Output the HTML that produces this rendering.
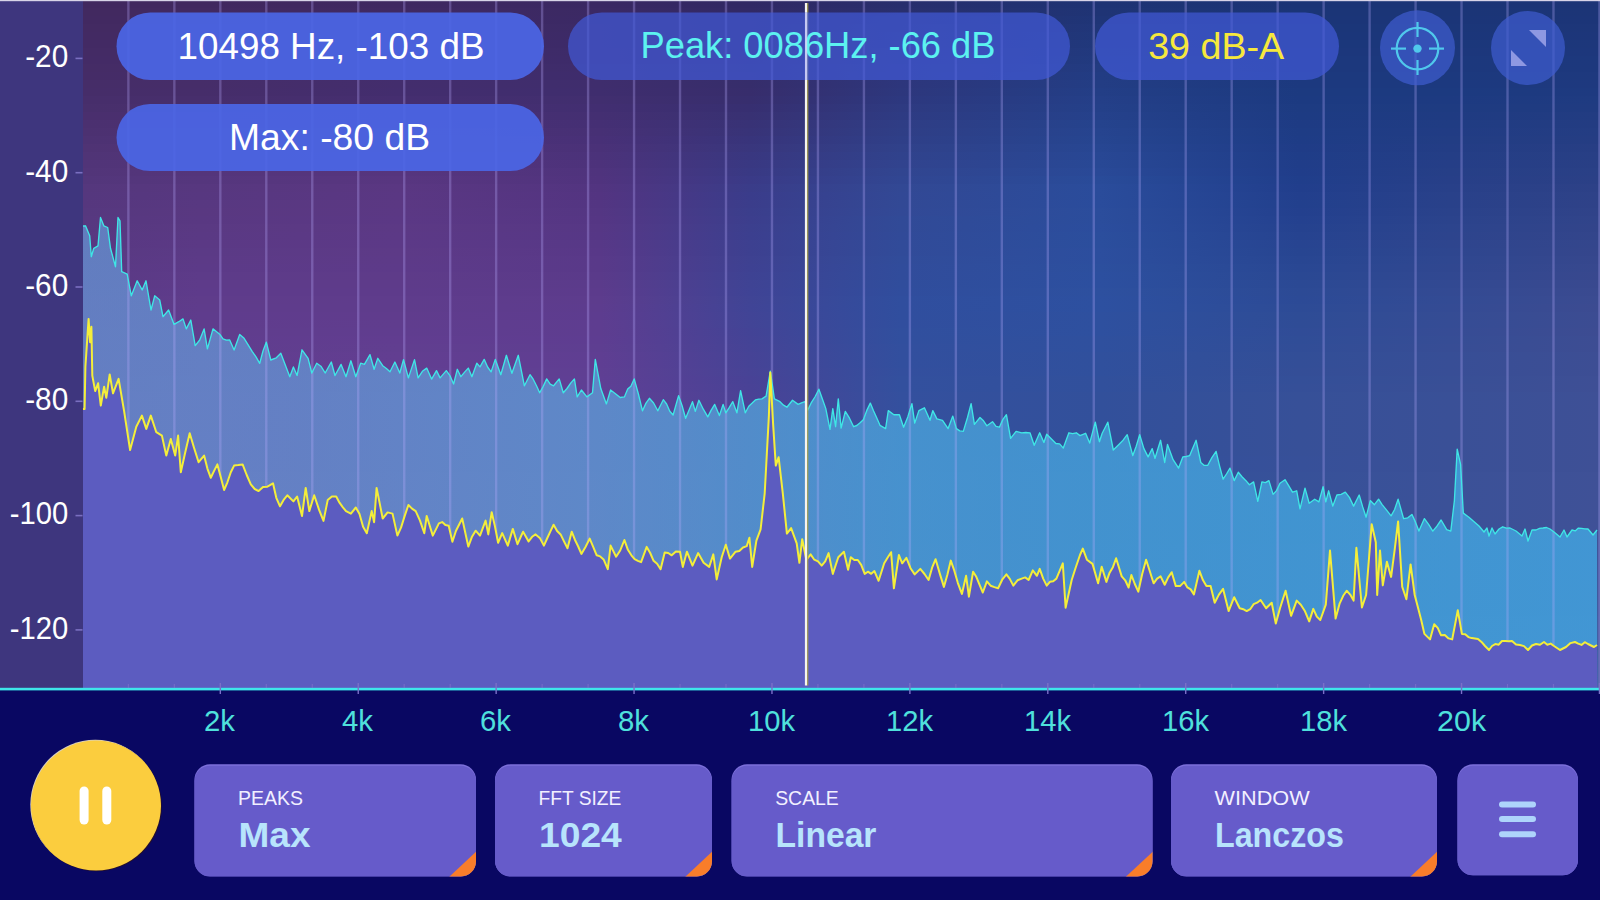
<!DOCTYPE html>
<html><head><meta charset="utf-8"><style>
html,body{margin:0;padding:0;background:#090762;width:1600px;height:900px;overflow:hidden}
svg{display:block;font-family:"Liberation Sans",sans-serif}
</style></head><body>
<svg width="1600" height="900" viewBox="0 0 1600 900">
<defs>
<linearGradient id="b0" x1="83" x2="1600" y1="0" y2="0" gradientUnits="userSpaceOnUse"><stop offset="0.000" stop-color="#41285f"/><stop offset="0.077" stop-color="#41285f"/><stop offset="0.209" stop-color="#3f2861"/><stop offset="0.341" stop-color="#3a2863"/><stop offset="0.440" stop-color="#302864"/><stop offset="0.539" stop-color="#282e6d"/><stop offset="0.670" stop-color="#1e3374"/><stop offset="0.802" stop-color="#1b3476"/><stop offset="0.901" stop-color="#1b3476"/><stop offset="1.000" stop-color="#1c3476"/></linearGradient><linearGradient id="b1" x1="83" x2="1600" y1="0" y2="0" gradientUnits="userSpaceOnUse"><stop offset="0.000" stop-color="#422960"/><stop offset="0.077" stop-color="#422960"/><stop offset="0.209" stop-color="#402962"/><stop offset="0.341" stop-color="#3b2964"/><stop offset="0.440" stop-color="#312965"/><stop offset="0.539" stop-color="#292f6e"/><stop offset="0.670" stop-color="#1f3475"/><stop offset="0.802" stop-color="#1b3577"/><stop offset="0.901" stop-color="#1b3577"/><stop offset="1.000" stop-color="#1c3577"/></linearGradient><linearGradient id="b2" x1="83" x2="1600" y1="0" y2="0" gradientUnits="userSpaceOnUse"><stop offset="0.000" stop-color="#422961"/><stop offset="0.077" stop-color="#422961"/><stop offset="0.209" stop-color="#402963"/><stop offset="0.341" stop-color="#3b2965"/><stop offset="0.440" stop-color="#322966"/><stop offset="0.539" stop-color="#293070"/><stop offset="0.670" stop-color="#1f3577"/><stop offset="0.802" stop-color="#1b3578"/><stop offset="0.901" stop-color="#1b3578"/><stop offset="1.000" stop-color="#1c3578"/></linearGradient><linearGradient id="b3" x1="83" x2="1600" y1="0" y2="0" gradientUnits="userSpaceOnUse"><stop offset="0.000" stop-color="#432a62"/><stop offset="0.077" stop-color="#432a62"/><stop offset="0.209" stop-color="#402a64"/><stop offset="0.341" stop-color="#3c2a66"/><stop offset="0.440" stop-color="#322a66"/><stop offset="0.539" stop-color="#2a3171"/><stop offset="0.670" stop-color="#203679"/><stop offset="0.802" stop-color="#1b3679"/><stop offset="0.901" stop-color="#1b3679"/><stop offset="1.000" stop-color="#1d3679"/></linearGradient><linearGradient id="b4" x1="83" x2="1600" y1="0" y2="0" gradientUnits="userSpaceOnUse"><stop offset="0.000" stop-color="#432a63"/><stop offset="0.077" stop-color="#432a63"/><stop offset="0.209" stop-color="#412a65"/><stop offset="0.341" stop-color="#3c2a67"/><stop offset="0.440" stop-color="#332a67"/><stop offset="0.539" stop-color="#2a3273"/><stop offset="0.670" stop-color="#20377a"/><stop offset="0.802" stop-color="#1b367a"/><stop offset="0.901" stop-color="#1b367a"/><stop offset="1.000" stop-color="#1d367a"/></linearGradient><linearGradient id="b5" x1="83" x2="1600" y1="0" y2="0" gradientUnits="userSpaceOnUse"><stop offset="0.000" stop-color="#432a64"/><stop offset="0.077" stop-color="#432a64"/><stop offset="0.209" stop-color="#412a67"/><stop offset="0.341" stop-color="#3c2a68"/><stop offset="0.440" stop-color="#332a68"/><stop offset="0.539" stop-color="#2a3274"/><stop offset="0.670" stop-color="#20387c"/><stop offset="0.802" stop-color="#1b377b"/><stop offset="0.901" stop-color="#1b377b"/><stop offset="1.000" stop-color="#1d377b"/></linearGradient><linearGradient id="b6" x1="83" x2="1600" y1="0" y2="0" gradientUnits="userSpaceOnUse"><stop offset="0.000" stop-color="#442b65"/><stop offset="0.077" stop-color="#442b65"/><stop offset="0.209" stop-color="#412b68"/><stop offset="0.341" stop-color="#3d2b69"/><stop offset="0.440" stop-color="#342b69"/><stop offset="0.539" stop-color="#2b3376"/><stop offset="0.670" stop-color="#21397e"/><stop offset="0.802" stop-color="#1c377c"/><stop offset="0.901" stop-color="#1c377c"/><stop offset="1.000" stop-color="#1d377c"/></linearGradient><linearGradient id="b7" x1="83" x2="1600" y1="0" y2="0" gradientUnits="userSpaceOnUse"><stop offset="0.000" stop-color="#442b66"/><stop offset="0.077" stop-color="#442b66"/><stop offset="0.209" stop-color="#422b69"/><stop offset="0.341" stop-color="#3d2b6a"/><stop offset="0.440" stop-color="#352b69"/><stop offset="0.539" stop-color="#2b3477"/><stop offset="0.670" stop-color="#213a7f"/><stop offset="0.802" stop-color="#1c387d"/><stop offset="0.901" stop-color="#1c387d"/><stop offset="1.000" stop-color="#1d387d"/></linearGradient><linearGradient id="b8" x1="83" x2="1600" y1="0" y2="0" gradientUnits="userSpaceOnUse"><stop offset="0.000" stop-color="#452c66"/><stop offset="0.077" stop-color="#452c67"/><stop offset="0.209" stop-color="#422c6a"/><stop offset="0.341" stop-color="#3e2c6b"/><stop offset="0.440" stop-color="#352c6a"/><stop offset="0.539" stop-color="#2c3579"/><stop offset="0.670" stop-color="#223b81"/><stop offset="0.802" stop-color="#1c387d"/><stop offset="0.901" stop-color="#1c387d"/><stop offset="1.000" stop-color="#1d387d"/></linearGradient><linearGradient id="b9" x1="83" x2="1600" y1="0" y2="0" gradientUnits="userSpaceOnUse"><stop offset="0.000" stop-color="#452c67"/><stop offset="0.077" stop-color="#452c68"/><stop offset="0.209" stop-color="#422c6c"/><stop offset="0.341" stop-color="#3e2c6c"/><stop offset="0.440" stop-color="#362c6b"/><stop offset="0.539" stop-color="#2c357a"/><stop offset="0.670" stop-color="#223c83"/><stop offset="0.802" stop-color="#1c397e"/><stop offset="0.901" stop-color="#1c397e"/><stop offset="1.000" stop-color="#1e397e"/></linearGradient><linearGradient id="b10" x1="83" x2="1600" y1="0" y2="0" gradientUnits="userSpaceOnUse"><stop offset="0.000" stop-color="#462d68"/><stop offset="0.077" stop-color="#462d69"/><stop offset="0.209" stop-color="#432d6d"/><stop offset="0.341" stop-color="#3f2d6d"/><stop offset="0.440" stop-color="#362d6b"/><stop offset="0.539" stop-color="#2d367c"/><stop offset="0.670" stop-color="#233d84"/><stop offset="0.802" stop-color="#1c397f"/><stop offset="0.901" stop-color="#1c397f"/><stop offset="1.000" stop-color="#1e397f"/></linearGradient><linearGradient id="b11" x1="83" x2="1600" y1="0" y2="0" gradientUnits="userSpaceOnUse"><stop offset="0.000" stop-color="#462d69"/><stop offset="0.077" stop-color="#462d6a"/><stop offset="0.209" stop-color="#432d6e"/><stop offset="0.341" stop-color="#3f2d6e"/><stop offset="0.440" stop-color="#372d6c"/><stop offset="0.539" stop-color="#2d377d"/><stop offset="0.670" stop-color="#233e86"/><stop offset="0.802" stop-color="#1c3a80"/><stop offset="0.901" stop-color="#1c3a80"/><stop offset="1.000" stop-color="#1e3a80"/></linearGradient><linearGradient id="b12" x1="83" x2="1600" y1="0" y2="0" gradientUnits="userSpaceOnUse"><stop offset="0.000" stop-color="#472e6b"/><stop offset="0.077" stop-color="#472e6c"/><stop offset="0.209" stop-color="#452e70"/><stop offset="0.341" stop-color="#412e6f"/><stop offset="0.440" stop-color="#372e6e"/><stop offset="0.539" stop-color="#2d387f"/><stop offset="0.670" stop-color="#243f88"/><stop offset="0.802" stop-color="#1c3a81"/><stop offset="0.901" stop-color="#1d3a81"/><stop offset="1.000" stop-color="#1f3b81"/></linearGradient><linearGradient id="b13" x1="83" x2="1600" y1="0" y2="0" gradientUnits="userSpaceOnUse"><stop offset="0.000" stop-color="#482f6c"/><stop offset="0.077" stop-color="#492f6d"/><stop offset="0.209" stop-color="#472f71"/><stop offset="0.341" stop-color="#422e71"/><stop offset="0.440" stop-color="#372f71"/><stop offset="0.539" stop-color="#2e3a81"/><stop offset="0.670" stop-color="#244089"/><stop offset="0.802" stop-color="#1d3b82"/><stop offset="0.901" stop-color="#1e3b81"/><stop offset="1.000" stop-color="#203b81"/></linearGradient><linearGradient id="b14" x1="83" x2="1600" y1="0" y2="0" gradientUnits="userSpaceOnUse"><stop offset="0.000" stop-color="#4a2f6e"/><stop offset="0.077" stop-color="#4a2f6f"/><stop offset="0.209" stop-color="#492f73"/><stop offset="0.341" stop-color="#442f72"/><stop offset="0.440" stop-color="#383173"/><stop offset="0.539" stop-color="#2e3b83"/><stop offset="0.670" stop-color="#25418b"/><stop offset="0.802" stop-color="#1d3b83"/><stop offset="0.901" stop-color="#1f3b82"/><stop offset="1.000" stop-color="#223c82"/></linearGradient><linearGradient id="b15" x1="83" x2="1600" y1="0" y2="0" gradientUnits="userSpaceOnUse"><stop offset="0.000" stop-color="#4b3070"/><stop offset="0.077" stop-color="#4c3071"/><stop offset="0.209" stop-color="#4b3075"/><stop offset="0.341" stop-color="#452f74"/><stop offset="0.440" stop-color="#383276"/><stop offset="0.539" stop-color="#2f3d85"/><stop offset="0.670" stop-color="#25438d"/><stop offset="0.802" stop-color="#1e3b84"/><stop offset="0.901" stop-color="#203c83"/><stop offset="1.000" stop-color="#233c82"/></linearGradient><linearGradient id="b16" x1="83" x2="1600" y1="0" y2="0" gradientUnits="userSpaceOnUse"><stop offset="0.000" stop-color="#4c3171"/><stop offset="0.077" stop-color="#4d3173"/><stop offset="0.209" stop-color="#4c3176"/><stop offset="0.341" stop-color="#473075"/><stop offset="0.440" stop-color="#383378"/><stop offset="0.539" stop-color="#2f3e86"/><stop offset="0.670" stop-color="#26448f"/><stop offset="0.802" stop-color="#1e3c85"/><stop offset="0.901" stop-color="#213c84"/><stop offset="1.000" stop-color="#243d83"/></linearGradient><linearGradient id="b17" x1="83" x2="1600" y1="0" y2="0" gradientUnits="userSpaceOnUse"><stop offset="0.000" stop-color="#4d3273"/><stop offset="0.077" stop-color="#4e3274"/><stop offset="0.209" stop-color="#4e3278"/><stop offset="0.341" stop-color="#483077"/><stop offset="0.440" stop-color="#38347b"/><stop offset="0.539" stop-color="#2f3f88"/><stop offset="0.670" stop-color="#264590"/><stop offset="0.802" stop-color="#1e3c86"/><stop offset="0.901" stop-color="#223d84"/><stop offset="1.000" stop-color="#253d83"/></linearGradient><linearGradient id="b18" x1="83" x2="1600" y1="0" y2="0" gradientUnits="userSpaceOnUse"><stop offset="0.000" stop-color="#4f3374"/><stop offset="0.077" stop-color="#503376"/><stop offset="0.209" stop-color="#503379"/><stop offset="0.341" stop-color="#4a3178"/><stop offset="0.440" stop-color="#39367d"/><stop offset="0.539" stop-color="#30418a"/><stop offset="0.670" stop-color="#274692"/><stop offset="0.802" stop-color="#1f3c87"/><stop offset="0.901" stop-color="#233d85"/><stop offset="1.000" stop-color="#273e84"/></linearGradient><linearGradient id="b19" x1="83" x2="1600" y1="0" y2="0" gradientUnits="userSpaceOnUse"><stop offset="0.000" stop-color="#503476"/><stop offset="0.077" stop-color="#513478"/><stop offset="0.209" stop-color="#52347b"/><stop offset="0.341" stop-color="#4b327a"/><stop offset="0.440" stop-color="#393780"/><stop offset="0.539" stop-color="#30428c"/><stop offset="0.670" stop-color="#284794"/><stop offset="0.802" stop-color="#1f3d88"/><stop offset="0.901" stop-color="#243e86"/><stop offset="1.000" stop-color="#283f85"/></linearGradient><linearGradient id="b20" x1="83" x2="1600" y1="0" y2="0" gradientUnits="userSpaceOnUse"><stop offset="0.000" stop-color="#513478"/><stop offset="0.077" stop-color="#523479"/><stop offset="0.209" stop-color="#54347d"/><stop offset="0.341" stop-color="#4d327b"/><stop offset="0.440" stop-color="#393882"/><stop offset="0.539" stop-color="#31438e"/><stop offset="0.670" stop-color="#284895"/><stop offset="0.802" stop-color="#203d89"/><stop offset="0.901" stop-color="#253e87"/><stop offset="1.000" stop-color="#293f85"/></linearGradient><linearGradient id="b21" x1="83" x2="1600" y1="0" y2="0" gradientUnits="userSpaceOnUse"><stop offset="0.000" stop-color="#523579"/><stop offset="0.077" stop-color="#54357b"/><stop offset="0.209" stop-color="#56357e"/><stop offset="0.341" stop-color="#4f337d"/><stop offset="0.440" stop-color="#393984"/><stop offset="0.539" stop-color="#314590"/><stop offset="0.670" stop-color="#294997"/><stop offset="0.802" stop-color="#203d8a"/><stop offset="0.901" stop-color="#263f87"/><stop offset="1.000" stop-color="#2a4086"/></linearGradient><linearGradient id="b22" x1="83" x2="1600" y1="0" y2="0" gradientUnits="userSpaceOnUse"><stop offset="0.000" stop-color="#53367b"/><stop offset="0.077" stop-color="#55367d"/><stop offset="0.209" stop-color="#583680"/><stop offset="0.341" stop-color="#50337e"/><stop offset="0.440" stop-color="#3a3a87"/><stop offset="0.539" stop-color="#314692"/><stop offset="0.670" stop-color="#294b99"/><stop offset="0.802" stop-color="#203e8b"/><stop offset="0.901" stop-color="#273f88"/><stop offset="1.000" stop-color="#2b4086"/></linearGradient><linearGradient id="b23" x1="83" x2="1600" y1="0" y2="0" gradientUnits="userSpaceOnUse"><stop offset="0.000" stop-color="#55377d"/><stop offset="0.077" stop-color="#57377f"/><stop offset="0.209" stop-color="#5a3782"/><stop offset="0.341" stop-color="#523480"/><stop offset="0.440" stop-color="#3a3c89"/><stop offset="0.539" stop-color="#324894"/><stop offset="0.670" stop-color="#2a4c9b"/><stop offset="0.802" stop-color="#213e8c"/><stop offset="0.901" stop-color="#284089"/><stop offset="1.000" stop-color="#2d4187"/></linearGradient><linearGradient id="b24" x1="83" x2="1600" y1="0" y2="0" gradientUnits="userSpaceOnUse"><stop offset="0.000" stop-color="#55377e"/><stop offset="0.077" stop-color="#573780"/><stop offset="0.209" stop-color="#5a3783"/><stop offset="0.341" stop-color="#533481"/><stop offset="0.440" stop-color="#3a3c8b"/><stop offset="0.539" stop-color="#324895"/><stop offset="0.670" stop-color="#2a4c9b"/><stop offset="0.802" stop-color="#223f8d"/><stop offset="0.901" stop-color="#29418a"/><stop offset="1.000" stop-color="#2e4288"/></linearGradient><linearGradient id="b25" x1="83" x2="1600" y1="0" y2="0" gradientUnits="userSpaceOnUse"><stop offset="0.000" stop-color="#56377e"/><stop offset="0.077" stop-color="#583881"/><stop offset="0.209" stop-color="#5b3883"/><stop offset="0.341" stop-color="#533582"/><stop offset="0.440" stop-color="#3b3d8b"/><stop offset="0.539" stop-color="#324995"/><stop offset="0.670" stop-color="#2a4c9c"/><stop offset="0.802" stop-color="#22408d"/><stop offset="0.901" stop-color="#29418a"/><stop offset="1.000" stop-color="#2f4288"/></linearGradient><linearGradient id="b26" x1="83" x2="1600" y1="0" y2="0" gradientUnits="userSpaceOnUse"><stop offset="0.000" stop-color="#56387f"/><stop offset="0.077" stop-color="#593881"/><stop offset="0.209" stop-color="#5b3884"/><stop offset="0.341" stop-color="#543683"/><stop offset="0.440" stop-color="#3b3e8c"/><stop offset="0.539" stop-color="#324996"/><stop offset="0.670" stop-color="#2b4d9c"/><stop offset="0.802" stop-color="#23408e"/><stop offset="0.901" stop-color="#2a428b"/><stop offset="1.000" stop-color="#304389"/></linearGradient><linearGradient id="b27" x1="83" x2="1600" y1="0" y2="0" gradientUnits="userSpaceOnUse"><stop offset="0.000" stop-color="#573880"/><stop offset="0.077" stop-color="#593882"/><stop offset="0.209" stop-color="#5b3885"/><stop offset="0.341" stop-color="#553684"/><stop offset="0.440" stop-color="#3c3e8d"/><stop offset="0.539" stop-color="#314a97"/><stop offset="0.670" stop-color="#2b4d9c"/><stop offset="0.802" stop-color="#24418f"/><stop offset="0.901" stop-color="#2b438c"/><stop offset="1.000" stop-color="#31448a"/></linearGradient><linearGradient id="b28" x1="83" x2="1600" y1="0" y2="0" gradientUnits="userSpaceOnUse"><stop offset="0.000" stop-color="#573880"/><stop offset="0.077" stop-color="#5a3983"/><stop offset="0.209" stop-color="#5c3985"/><stop offset="0.341" stop-color="#563785"/><stop offset="0.440" stop-color="#3c3f8e"/><stop offset="0.539" stop-color="#314a97"/><stop offset="0.670" stop-color="#2b4d9d"/><stop offset="0.802" stop-color="#25428f"/><stop offset="0.901" stop-color="#2c448d"/><stop offset="1.000" stop-color="#32448a"/></linearGradient><linearGradient id="b29" x1="83" x2="1600" y1="0" y2="0" gradientUnits="userSpaceOnUse"><stop offset="0.000" stop-color="#583881"/><stop offset="0.077" stop-color="#5a3984"/><stop offset="0.209" stop-color="#5c3986"/><stop offset="0.341" stop-color="#563786"/><stop offset="0.440" stop-color="#3c3f8f"/><stop offset="0.539" stop-color="#314a98"/><stop offset="0.670" stop-color="#2b4e9d"/><stop offset="0.802" stop-color="#264390"/><stop offset="0.901" stop-color="#2d448d"/><stop offset="1.000" stop-color="#33458b"/></linearGradient><linearGradient id="b30" x1="83" x2="1600" y1="0" y2="0" gradientUnits="userSpaceOnUse"><stop offset="0.000" stop-color="#583882"/><stop offset="0.077" stop-color="#5b3985"/><stop offset="0.209" stop-color="#5c3987"/><stop offset="0.341" stop-color="#573887"/><stop offset="0.440" stop-color="#3d4090"/><stop offset="0.539" stop-color="#314b99"/><stop offset="0.670" stop-color="#2b4e9d"/><stop offset="0.802" stop-color="#274491"/><stop offset="0.901" stop-color="#2e458e"/><stop offset="1.000" stop-color="#34468c"/></linearGradient><linearGradient id="b31" x1="83" x2="1600" y1="0" y2="0" gradientUnits="userSpaceOnUse"><stop offset="0.000" stop-color="#593982"/><stop offset="0.077" stop-color="#5b3a86"/><stop offset="0.209" stop-color="#5d3a87"/><stop offset="0.341" stop-color="#583888"/><stop offset="0.440" stop-color="#3d4090"/><stop offset="0.539" stop-color="#314b99"/><stop offset="0.670" stop-color="#2c4e9e"/><stop offset="0.802" stop-color="#274591"/><stop offset="0.901" stop-color="#2e468f"/><stop offset="1.000" stop-color="#35468c"/></linearGradient><linearGradient id="b32" x1="83" x2="1600" y1="0" y2="0" gradientUnits="userSpaceOnUse"><stop offset="0.000" stop-color="#593983"/><stop offset="0.077" stop-color="#5c3a87"/><stop offset="0.209" stop-color="#5d3a88"/><stop offset="0.341" stop-color="#593989"/><stop offset="0.440" stop-color="#3e4191"/><stop offset="0.539" stop-color="#314c9a"/><stop offset="0.670" stop-color="#2c4e9e"/><stop offset="0.802" stop-color="#284692"/><stop offset="0.901" stop-color="#2f4790"/><stop offset="1.000" stop-color="#36478d"/></linearGradient><linearGradient id="b33" x1="83" x2="1600" y1="0" y2="0" gradientUnits="userSpaceOnUse"><stop offset="0.000" stop-color="#5a3984"/><stop offset="0.077" stop-color="#5c3a88"/><stop offset="0.209" stop-color="#5d3a89"/><stop offset="0.341" stop-color="#593989"/><stop offset="0.440" stop-color="#3e4192"/><stop offset="0.539" stop-color="#314c9b"/><stop offset="0.670" stop-color="#2c4f9e"/><stop offset="0.802" stop-color="#294793"/><stop offset="0.901" stop-color="#304790"/><stop offset="1.000" stop-color="#37488e"/></linearGradient><linearGradient id="b34" x1="83" x2="1600" y1="0" y2="0" gradientUnits="userSpaceOnUse"><stop offset="0.000" stop-color="#5a3984"/><stop offset="0.077" stop-color="#5d3b89"/><stop offset="0.209" stop-color="#5e3b89"/><stop offset="0.341" stop-color="#5a3a8a"/><stop offset="0.440" stop-color="#3e4293"/><stop offset="0.539" stop-color="#314c9b"/><stop offset="0.670" stop-color="#2c4f9f"/><stop offset="0.802" stop-color="#2a4893"/><stop offset="0.901" stop-color="#314891"/><stop offset="1.000" stop-color="#38488e"/></linearGradient><linearGradient id="b35" x1="83" x2="1600" y1="0" y2="0" gradientUnits="userSpaceOnUse"><stop offset="0.000" stop-color="#5b3985"/><stop offset="0.077" stop-color="#5e3b8a"/><stop offset="0.209" stop-color="#5e3b8a"/><stop offset="0.341" stop-color="#5b3b8b"/><stop offset="0.440" stop-color="#3f4394"/><stop offset="0.539" stop-color="#304d9c"/><stop offset="0.670" stop-color="#2c4f9f"/><stop offset="0.802" stop-color="#2b4994"/><stop offset="0.901" stop-color="#324992"/><stop offset="1.000" stop-color="#39498f"/></linearGradient><linearGradient id="b36" x1="83" x2="1600" y1="0" y2="0" gradientUnits="userSpaceOnUse"><stop offset="0.000" stop-color="#5b3a86"/><stop offset="0.077" stop-color="#5e3b8b"/><stop offset="0.209" stop-color="#5e3b8b"/><stop offset="0.341" stop-color="#5c3b8c"/><stop offset="0.440" stop-color="#3f4395"/><stop offset="0.539" stop-color="#304d9d"/><stop offset="0.670" stop-color="#2d509f"/><stop offset="0.802" stop-color="#2c4a95"/><stop offset="0.901" stop-color="#334a93"/><stop offset="1.000" stop-color="#3a4a90"/></linearGradient><linearGradient id="b37" x1="83" x2="1600" y1="0" y2="0" gradientUnits="userSpaceOnUse"><stop offset="0.000" stop-color="#5c3a87"/><stop offset="0.077" stop-color="#5f3c8b"/><stop offset="0.209" stop-color="#5f3c8c"/><stop offset="0.341" stop-color="#5d3c8d"/><stop offset="0.440" stop-color="#404495"/><stop offset="0.539" stop-color="#304e9e"/><stop offset="0.670" stop-color="#2d50a0"/><stop offset="0.802" stop-color="#2c4a96"/><stop offset="0.901" stop-color="#334b94"/><stop offset="1.000" stop-color="#3b4b91"/></linearGradient><linearGradient id="b38" x1="83" x2="1600" y1="0" y2="0" gradientUnits="userSpaceOnUse"><stop offset="0.000" stop-color="#5c3a87"/><stop offset="0.077" stop-color="#5f3c8c"/><stop offset="0.209" stop-color="#5f3c8c"/><stop offset="0.341" stop-color="#5d3c8e"/><stop offset="0.440" stop-color="#404496"/><stop offset="0.539" stop-color="#304e9e"/><stop offset="0.670" stop-color="#2d50a0"/><stop offset="0.802" stop-color="#2d4b96"/><stop offset="0.901" stop-color="#344b94"/><stop offset="1.000" stop-color="#3c4b91"/></linearGradient><linearGradient id="b39" x1="83" x2="1600" y1="0" y2="0" gradientUnits="userSpaceOnUse"><stop offset="0.000" stop-color="#5c3a88"/><stop offset="0.077" stop-color="#5f3c8d"/><stop offset="0.209" stop-color="#603c8d"/><stop offset="0.341" stop-color="#5d3c8f"/><stop offset="0.440" stop-color="#414496"/><stop offset="0.539" stop-color="#304e9e"/><stop offset="0.670" stop-color="#2e509f"/><stop offset="0.802" stop-color="#2e4c96"/><stop offset="0.901" stop-color="#354c94"/><stop offset="1.000" stop-color="#3c4c92"/></linearGradient><linearGradient id="b40" x1="83" x2="1600" y1="0" y2="0" gradientUnits="userSpaceOnUse"><stop offset="0.000" stop-color="#5d3a88"/><stop offset="0.077" stop-color="#603c8d"/><stop offset="0.209" stop-color="#603d8e"/><stop offset="0.341" stop-color="#5e3d90"/><stop offset="0.440" stop-color="#424496"/><stop offset="0.539" stop-color="#314e9e"/><stop offset="0.670" stop-color="#2e509f"/><stop offset="0.802" stop-color="#2f4c96"/><stop offset="0.901" stop-color="#354c95"/><stop offset="1.000" stop-color="#3c4c92"/></linearGradient><linearGradient id="b41" x1="83" x2="1600" y1="0" y2="0" gradientUnits="userSpaceOnUse"><stop offset="0.000" stop-color="#5d3b88"/><stop offset="0.077" stop-color="#603d8d"/><stop offset="0.209" stop-color="#603d8f"/><stop offset="0.341" stop-color="#5e3d90"/><stop offset="0.440" stop-color="#434396"/><stop offset="0.539" stop-color="#314f9e"/><stop offset="0.670" stop-color="#2e509f"/><stop offset="0.802" stop-color="#304c97"/><stop offset="0.901" stop-color="#364c95"/><stop offset="1.000" stop-color="#3d4c92"/></linearGradient><linearGradient id="b42" x1="83" x2="1600" y1="0" y2="0" gradientUnits="userSpaceOnUse"><stop offset="0.000" stop-color="#5d3b89"/><stop offset="0.077" stop-color="#603d8e"/><stop offset="0.209" stop-color="#613d90"/><stop offset="0.341" stop-color="#5e3d91"/><stop offset="0.440" stop-color="#444396"/><stop offset="0.539" stop-color="#314f9e"/><stop offset="0.670" stop-color="#2f509e"/><stop offset="0.802" stop-color="#304d97"/><stop offset="0.901" stop-color="#364d95"/><stop offset="1.000" stop-color="#3d4d93"/></linearGradient><linearGradient id="b43" x1="83" x2="1600" y1="0" y2="0" gradientUnits="userSpaceOnUse"><stop offset="0.000" stop-color="#5d3b89"/><stop offset="0.077" stop-color="#603d8e"/><stop offset="0.209" stop-color="#613e90"/><stop offset="0.341" stop-color="#5e3e91"/><stop offset="0.440" stop-color="#454396"/><stop offset="0.539" stop-color="#324f9e"/><stop offset="0.670" stop-color="#2f509e"/><stop offset="0.802" stop-color="#314d97"/><stop offset="0.901" stop-color="#374d95"/><stop offset="1.000" stop-color="#3d4d93"/></linearGradient><linearGradient id="b44" x1="83" x2="1600" y1="0" y2="0" gradientUnits="userSpaceOnUse"><stop offset="0.000" stop-color="#5e3b8a"/><stop offset="0.077" stop-color="#613d8f"/><stop offset="0.209" stop-color="#623e91"/><stop offset="0.341" stop-color="#5f3e92"/><stop offset="0.440" stop-color="#464396"/><stop offset="0.539" stop-color="#324f9e"/><stop offset="0.670" stop-color="#30509d"/><stop offset="0.802" stop-color="#324e97"/><stop offset="0.901" stop-color="#374e96"/><stop offset="1.000" stop-color="#3d4e94"/></linearGradient><linearGradient id="b45" x1="83" x2="1600" y1="0" y2="0" gradientUnits="userSpaceOnUse"><stop offset="0.000" stop-color="#5e3b8a"/><stop offset="0.077" stop-color="#613d8f"/><stop offset="0.209" stop-color="#623e92"/><stop offset="0.341" stop-color="#5f3e93"/><stop offset="0.440" stop-color="#464396"/><stop offset="0.539" stop-color="#324f9e"/><stop offset="0.670" stop-color="#30509d"/><stop offset="0.802" stop-color="#334e97"/><stop offset="0.901" stop-color="#384e96"/><stop offset="1.000" stop-color="#3d4e94"/></linearGradient><linearGradient id="b46" x1="83" x2="1600" y1="0" y2="0" gradientUnits="userSpaceOnUse"><stop offset="0.000" stop-color="#5e3b8a"/><stop offset="0.077" stop-color="#613d8f"/><stop offset="0.209" stop-color="#623f93"/><stop offset="0.341" stop-color="#5f3f93"/><stop offset="0.440" stop-color="#474396"/><stop offset="0.539" stop-color="#334f9e"/><stop offset="0.670" stop-color="#30509d"/><stop offset="0.802" stop-color="#344e97"/><stop offset="0.901" stop-color="#384e96"/><stop offset="1.000" stop-color="#3d4e94"/></linearGradient><linearGradient id="b47" x1="83" x2="1600" y1="0" y2="0" gradientUnits="userSpaceOnUse"><stop offset="0.000" stop-color="#5e3c8b"/><stop offset="0.077" stop-color="#613e90"/><stop offset="0.209" stop-color="#633f94"/><stop offset="0.341" stop-color="#5f3f94"/><stop offset="0.440" stop-color="#484296"/><stop offset="0.539" stop-color="#33509e"/><stop offset="0.670" stop-color="#31509c"/><stop offset="0.802" stop-color="#344f98"/><stop offset="0.901" stop-color="#384f96"/><stop offset="1.000" stop-color="#3e4f95"/></linearGradient><linearGradient id="b48" x1="83" x2="1600" y1="0" y2="0" gradientUnits="userSpaceOnUse"><stop offset="0.000" stop-color="#5e3c8b"/><stop offset="0.077" stop-color="#613e90"/><stop offset="0.209" stop-color="#633f94"/><stop offset="0.341" stop-color="#5f3f95"/><stop offset="0.440" stop-color="#494296"/><stop offset="0.539" stop-color="#33509e"/><stop offset="0.670" stop-color="#31509c"/><stop offset="0.802" stop-color="#354f98"/><stop offset="0.901" stop-color="#394f96"/><stop offset="1.000" stop-color="#3e4f95"/></linearGradient><linearGradient id="b49" x1="83" x2="1600" y1="0" y2="0" gradientUnits="userSpaceOnUse"><stop offset="0.000" stop-color="#5f3c8c"/><stop offset="0.077" stop-color="#623e91"/><stop offset="0.209" stop-color="#644095"/><stop offset="0.341" stop-color="#604095"/><stop offset="0.440" stop-color="#4a4296"/><stop offset="0.539" stop-color="#34509e"/><stop offset="0.670" stop-color="#32509b"/><stop offset="0.802" stop-color="#365098"/><stop offset="0.901" stop-color="#395097"/><stop offset="1.000" stop-color="#3e5096"/></linearGradient><linearGradient id="b50" x1="83" x2="1600" y1="0" y2="0" gradientUnits="userSpaceOnUse"><stop offset="0.000" stop-color="#5f3c8c"/><stop offset="0.077" stop-color="#623e91"/><stop offset="0.209" stop-color="#644096"/><stop offset="0.341" stop-color="#604096"/><stop offset="0.440" stop-color="#4b4296"/><stop offset="0.539" stop-color="#34509e"/><stop offset="0.670" stop-color="#32509b"/><stop offset="0.802" stop-color="#375098"/><stop offset="0.901" stop-color="#3a5097"/><stop offset="1.000" stop-color="#3e5096"/></linearGradient><linearGradient id="b51" x1="83" x2="1600" y1="0" y2="0" gradientUnits="userSpaceOnUse"><stop offset="0.000" stop-color="#5f3c8c"/><stop offset="0.077" stop-color="#623e91"/><stop offset="0.209" stop-color="#644096"/><stop offset="0.341" stop-color="#604096"/><stop offset="0.440" stop-color="#4b4296"/><stop offset="0.539" stop-color="#34509e"/><stop offset="0.670" stop-color="#32509b"/><stop offset="0.802" stop-color="#375098"/><stop offset="0.901" stop-color="#3a5097"/><stop offset="1.000" stop-color="#3e5096"/></linearGradient><linearGradient id="b52" x1="83" x2="1600" y1="0" y2="0" gradientUnits="userSpaceOnUse"><stop offset="0.000" stop-color="#5f3c8c"/><stop offset="0.077" stop-color="#623e91"/><stop offset="0.209" stop-color="#644096"/><stop offset="0.341" stop-color="#604096"/><stop offset="0.440" stop-color="#4b4296"/><stop offset="0.539" stop-color="#34509e"/><stop offset="0.670" stop-color="#32509b"/><stop offset="0.802" stop-color="#375098"/><stop offset="0.901" stop-color="#3a5097"/><stop offset="1.000" stop-color="#3e5096"/></linearGradient><linearGradient id="b53" x1="83" x2="1600" y1="0" y2="0" gradientUnits="userSpaceOnUse"><stop offset="0.000" stop-color="#5f3c8c"/><stop offset="0.077" stop-color="#623e91"/><stop offset="0.209" stop-color="#644096"/><stop offset="0.341" stop-color="#604096"/><stop offset="0.440" stop-color="#4b4296"/><stop offset="0.539" stop-color="#34509e"/><stop offset="0.670" stop-color="#32509b"/><stop offset="0.802" stop-color="#375098"/><stop offset="0.901" stop-color="#3a5097"/><stop offset="1.000" stop-color="#3e5096"/></linearGradient><linearGradient id="b54" x1="83" x2="1600" y1="0" y2="0" gradientUnits="userSpaceOnUse"><stop offset="0.000" stop-color="#5f3c8d"/><stop offset="0.077" stop-color="#623e92"/><stop offset="0.209" stop-color="#644096"/><stop offset="0.341" stop-color="#604096"/><stop offset="0.440" stop-color="#4b4296"/><stop offset="0.539" stop-color="#34509e"/><stop offset="0.670" stop-color="#32509b"/><stop offset="0.802" stop-color="#375098"/><stop offset="0.901" stop-color="#3a5097"/><stop offset="1.000" stop-color="#3e5096"/></linearGradient><linearGradient id="b55" x1="83" x2="1600" y1="0" y2="0" gradientUnits="userSpaceOnUse"><stop offset="0.000" stop-color="#5f3c8d"/><stop offset="0.077" stop-color="#623e92"/><stop offset="0.209" stop-color="#644096"/><stop offset="0.341" stop-color="#604096"/><stop offset="0.440" stop-color="#4b4296"/><stop offset="0.539" stop-color="#34509e"/><stop offset="0.670" stop-color="#32509b"/><stop offset="0.802" stop-color="#375098"/><stop offset="0.901" stop-color="#3a5097"/><stop offset="1.000" stop-color="#3e5096"/></linearGradient><linearGradient id="b56" x1="83" x2="1600" y1="0" y2="0" gradientUnits="userSpaceOnUse"><stop offset="0.000" stop-color="#5f3c8d"/><stop offset="0.077" stop-color="#623e92"/><stop offset="0.209" stop-color="#644096"/><stop offset="0.341" stop-color="#604096"/><stop offset="0.440" stop-color="#4b4296"/><stop offset="0.539" stop-color="#34509e"/><stop offset="0.670" stop-color="#32509b"/><stop offset="0.802" stop-color="#375098"/><stop offset="0.901" stop-color="#3a5097"/><stop offset="1.000" stop-color="#3e5096"/></linearGradient><linearGradient id="b57" x1="83" x2="1600" y1="0" y2="0" gradientUnits="userSpaceOnUse"><stop offset="0.000" stop-color="#603c8d"/><stop offset="0.077" stop-color="#623e92"/><stop offset="0.209" stop-color="#644096"/><stop offset="0.341" stop-color="#604096"/><stop offset="0.440" stop-color="#4c4296"/><stop offset="0.539" stop-color="#35509e"/><stop offset="0.670" stop-color="#32509c"/><stop offset="0.802" stop-color="#375099"/><stop offset="0.901" stop-color="#3a5097"/><stop offset="1.000" stop-color="#3e5096"/></linearGradient><linearGradient id="b58" x1="83" x2="1600" y1="0" y2="0" gradientUnits="userSpaceOnUse"><stop offset="0.000" stop-color="#603c8d"/><stop offset="0.077" stop-color="#623e92"/><stop offset="0.209" stop-color="#644096"/><stop offset="0.341" stop-color="#604096"/><stop offset="0.440" stop-color="#4c4296"/><stop offset="0.539" stop-color="#35509e"/><stop offset="0.670" stop-color="#32509c"/><stop offset="0.802" stop-color="#375099"/><stop offset="0.901" stop-color="#3a5097"/><stop offset="1.000" stop-color="#3e5096"/></linearGradient><linearGradient id="b59" x1="83" x2="1600" y1="0" y2="0" gradientUnits="userSpaceOnUse"><stop offset="0.000" stop-color="#603d8d"/><stop offset="0.077" stop-color="#633f92"/><stop offset="0.209" stop-color="#654197"/><stop offset="0.341" stop-color="#614197"/><stop offset="0.440" stop-color="#4c4397"/><stop offset="0.539" stop-color="#35519f"/><stop offset="0.670" stop-color="#33519c"/><stop offset="0.802" stop-color="#375199"/><stop offset="0.901" stop-color="#3b5198"/><stop offset="1.000" stop-color="#3f5197"/></linearGradient><linearGradient id="b60" x1="83" x2="1600" y1="0" y2="0" gradientUnits="userSpaceOnUse"><stop offset="0.000" stop-color="#603d8d"/><stop offset="0.077" stop-color="#633f92"/><stop offset="0.209" stop-color="#654197"/><stop offset="0.341" stop-color="#614197"/><stop offset="0.440" stop-color="#4c4397"/><stop offset="0.539" stop-color="#35519f"/><stop offset="0.670" stop-color="#33519c"/><stop offset="0.802" stop-color="#375199"/><stop offset="0.901" stop-color="#3b5198"/><stop offset="1.000" stop-color="#3f5197"/></linearGradient><linearGradient id="b61" x1="83" x2="1600" y1="0" y2="0" gradientUnits="userSpaceOnUse"><stop offset="0.000" stop-color="#603d8e"/><stop offset="0.077" stop-color="#633f93"/><stop offset="0.209" stop-color="#654197"/><stop offset="0.341" stop-color="#614197"/><stop offset="0.440" stop-color="#4c4397"/><stop offset="0.539" stop-color="#35519f"/><stop offset="0.670" stop-color="#33519c"/><stop offset="0.802" stop-color="#375199"/><stop offset="0.901" stop-color="#3b5198"/><stop offset="1.000" stop-color="#3f5197"/></linearGradient><linearGradient id="b62" x1="83" x2="1600" y1="0" y2="0" gradientUnits="userSpaceOnUse"><stop offset="0.000" stop-color="#603d8e"/><stop offset="0.077" stop-color="#633f93"/><stop offset="0.209" stop-color="#654197"/><stop offset="0.341" stop-color="#614197"/><stop offset="0.440" stop-color="#4c4397"/><stop offset="0.539" stop-color="#35519f"/><stop offset="0.670" stop-color="#33519c"/><stop offset="0.802" stop-color="#375199"/><stop offset="0.901" stop-color="#3b5198"/><stop offset="1.000" stop-color="#3f5197"/></linearGradient><linearGradient id="b63" x1="83" x2="1600" y1="0" y2="0" gradientUnits="userSpaceOnUse"><stop offset="0.000" stop-color="#603d8e"/><stop offset="0.077" stop-color="#633f93"/><stop offset="0.209" stop-color="#654197"/><stop offset="0.341" stop-color="#614197"/><stop offset="0.440" stop-color="#4c4397"/><stop offset="0.539" stop-color="#35519f"/><stop offset="0.670" stop-color="#33519c"/><stop offset="0.802" stop-color="#375199"/><stop offset="0.901" stop-color="#3b5198"/><stop offset="1.000" stop-color="#3f5197"/></linearGradient><linearGradient id="b64" x1="83" x2="1600" y1="0" y2="0" gradientUnits="userSpaceOnUse"><stop offset="0.000" stop-color="#603d8e"/><stop offset="0.077" stop-color="#633f93"/><stop offset="0.209" stop-color="#654197"/><stop offset="0.341" stop-color="#614197"/><stop offset="0.440" stop-color="#4c4397"/><stop offset="0.539" stop-color="#35519f"/><stop offset="0.670" stop-color="#33519c"/><stop offset="0.802" stop-color="#375199"/><stop offset="0.901" stop-color="#3b5198"/><stop offset="1.000" stop-color="#3f5197"/></linearGradient><linearGradient id="b65" x1="83" x2="1600" y1="0" y2="0" gradientUnits="userSpaceOnUse"><stop offset="0.000" stop-color="#603d8e"/><stop offset="0.077" stop-color="#633f93"/><stop offset="0.209" stop-color="#654197"/><stop offset="0.341" stop-color="#614197"/><stop offset="0.440" stop-color="#4c4397"/><stop offset="0.539" stop-color="#35519f"/><stop offset="0.670" stop-color="#33519c"/><stop offset="0.802" stop-color="#375199"/><stop offset="0.901" stop-color="#3b5198"/><stop offset="1.000" stop-color="#3f5197"/></linearGradient><linearGradient id="b66" x1="83" x2="1600" y1="0" y2="0" gradientUnits="userSpaceOnUse"><stop offset="0.000" stop-color="#603d8e"/><stop offset="0.077" stop-color="#633f93"/><stop offset="0.209" stop-color="#654197"/><stop offset="0.341" stop-color="#614197"/><stop offset="0.440" stop-color="#4c4397"/><stop offset="0.539" stop-color="#35519f"/><stop offset="0.670" stop-color="#33519c"/><stop offset="0.802" stop-color="#375199"/><stop offset="0.901" stop-color="#3b5198"/><stop offset="1.000" stop-color="#3f5197"/></linearGradient><linearGradient id="b67" x1="83" x2="1600" y1="0" y2="0" gradientUnits="userSpaceOnUse"><stop offset="0.000" stop-color="#603d8e"/><stop offset="0.077" stop-color="#633f93"/><stop offset="0.209" stop-color="#654197"/><stop offset="0.341" stop-color="#614197"/><stop offset="0.440" stop-color="#4c4397"/><stop offset="0.539" stop-color="#35519f"/><stop offset="0.670" stop-color="#33519c"/><stop offset="0.802" stop-color="#375199"/><stop offset="0.901" stop-color="#3b5198"/><stop offset="1.000" stop-color="#3f5197"/></linearGradient><linearGradient id="b68" x1="83" x2="1600" y1="0" y2="0" gradientUnits="userSpaceOnUse"><stop offset="0.000" stop-color="#613d8f"/><stop offset="0.077" stop-color="#633f94"/><stop offset="0.209" stop-color="#654197"/><stop offset="0.341" stop-color="#614197"/><stop offset="0.440" stop-color="#4d4397"/><stop offset="0.539" stop-color="#36519f"/><stop offset="0.670" stop-color="#33519d"/><stop offset="0.802" stop-color="#38519a"/><stop offset="0.901" stop-color="#3b5198"/><stop offset="1.000" stop-color="#3f5197"/></linearGradient><linearGradient id="b69" x1="83" x2="1600" y1="0" y2="0" gradientUnits="userSpaceOnUse"><stop offset="0.000" stop-color="#613d8f"/><stop offset="0.077" stop-color="#633f94"/><stop offset="0.209" stop-color="#654197"/><stop offset="0.341" stop-color="#614197"/><stop offset="0.440" stop-color="#4d4397"/><stop offset="0.539" stop-color="#36519f"/><stop offset="0.670" stop-color="#33519d"/><stop offset="0.802" stop-color="#38519a"/><stop offset="0.901" stop-color="#3b5198"/><stop offset="1.000" stop-color="#3f5197"/></linearGradient><linearGradient id="b70" x1="83" x2="1600" y1="0" y2="0" gradientUnits="userSpaceOnUse"><stop offset="0.000" stop-color="#613d8f"/><stop offset="0.077" stop-color="#633f94"/><stop offset="0.209" stop-color="#654197"/><stop offset="0.341" stop-color="#614197"/><stop offset="0.440" stop-color="#4d4397"/><stop offset="0.539" stop-color="#36519f"/><stop offset="0.670" stop-color="#33519d"/><stop offset="0.802" stop-color="#38519a"/><stop offset="0.901" stop-color="#3b5198"/><stop offset="1.000" stop-color="#3f5197"/></linearGradient><linearGradient id="b71" x1="83" x2="1600" y1="0" y2="0" gradientUnits="userSpaceOnUse"><stop offset="0.000" stop-color="#613d8f"/><stop offset="0.077" stop-color="#633f94"/><stop offset="0.209" stop-color="#654197"/><stop offset="0.341" stop-color="#614197"/><stop offset="0.440" stop-color="#4d4397"/><stop offset="0.539" stop-color="#36519f"/><stop offset="0.670" stop-color="#33519d"/><stop offset="0.802" stop-color="#38519a"/><stop offset="0.901" stop-color="#3b5198"/><stop offset="1.000" stop-color="#3f5197"/></linearGradient><linearGradient id="b72" x1="83" x2="1600" y1="0" y2="0" gradientUnits="userSpaceOnUse"><stop offset="0.000" stop-color="#613d8f"/><stop offset="0.077" stop-color="#633f94"/><stop offset="0.209" stop-color="#654197"/><stop offset="0.341" stop-color="#614197"/><stop offset="0.440" stop-color="#4d4397"/><stop offset="0.539" stop-color="#36519f"/><stop offset="0.670" stop-color="#33519d"/><stop offset="0.802" stop-color="#38519a"/><stop offset="0.901" stop-color="#3b5198"/><stop offset="1.000" stop-color="#3f5197"/></linearGradient><linearGradient id="b73" x1="83" x2="1600" y1="0" y2="0" gradientUnits="userSpaceOnUse"><stop offset="0.000" stop-color="#613d8f"/><stop offset="0.077" stop-color="#633f94"/><stop offset="0.209" stop-color="#654197"/><stop offset="0.341" stop-color="#614197"/><stop offset="0.440" stop-color="#4d4397"/><stop offset="0.539" stop-color="#36519f"/><stop offset="0.670" stop-color="#33519d"/><stop offset="0.802" stop-color="#38519a"/><stop offset="0.901" stop-color="#3b5198"/><stop offset="1.000" stop-color="#3f5197"/></linearGradient><linearGradient id="b74" x1="83" x2="1600" y1="0" y2="0" gradientUnits="userSpaceOnUse"><stop offset="0.000" stop-color="#613d8f"/><stop offset="0.077" stop-color="#633f94"/><stop offset="0.209" stop-color="#654197"/><stop offset="0.341" stop-color="#614197"/><stop offset="0.440" stop-color="#4d4397"/><stop offset="0.539" stop-color="#36519f"/><stop offset="0.670" stop-color="#33519d"/><stop offset="0.802" stop-color="#38519a"/><stop offset="0.901" stop-color="#3b5198"/><stop offset="1.000" stop-color="#3f5197"/></linearGradient><linearGradient id="b75" x1="83" x2="1600" y1="0" y2="0" gradientUnits="userSpaceOnUse"><stop offset="0.000" stop-color="#613d90"/><stop offset="0.077" stop-color="#633f95"/><stop offset="0.209" stop-color="#654197"/><stop offset="0.341" stop-color="#614197"/><stop offset="0.440" stop-color="#4d4397"/><stop offset="0.539" stop-color="#36519f"/><stop offset="0.670" stop-color="#33519d"/><stop offset="0.802" stop-color="#38519a"/><stop offset="0.901" stop-color="#3b5198"/><stop offset="1.000" stop-color="#3f5197"/></linearGradient><linearGradient id="b76" x1="83" x2="1600" y1="0" y2="0" gradientUnits="userSpaceOnUse"><stop offset="0.000" stop-color="#613d90"/><stop offset="0.077" stop-color="#633f95"/><stop offset="0.209" stop-color="#654197"/><stop offset="0.341" stop-color="#614197"/><stop offset="0.440" stop-color="#4d4397"/><stop offset="0.539" stop-color="#36519f"/><stop offset="0.670" stop-color="#33519d"/><stop offset="0.802" stop-color="#38519a"/><stop offset="0.901" stop-color="#3b5198"/><stop offset="1.000" stop-color="#3f5197"/></linearGradient><linearGradient id="b77" x1="83" x2="1600" y1="0" y2="0" gradientUnits="userSpaceOnUse"><stop offset="0.000" stop-color="#613e90"/><stop offset="0.077" stop-color="#644095"/><stop offset="0.209" stop-color="#664298"/><stop offset="0.341" stop-color="#624298"/><stop offset="0.440" stop-color="#4d4498"/><stop offset="0.539" stop-color="#3652a0"/><stop offset="0.670" stop-color="#34529d"/><stop offset="0.802" stop-color="#38529a"/><stop offset="0.901" stop-color="#3c5299"/><stop offset="1.000" stop-color="#405298"/></linearGradient><linearGradient id="b78" x1="83" x2="1600" y1="0" y2="0" gradientUnits="userSpaceOnUse"><stop offset="0.000" stop-color="#613e90"/><stop offset="0.077" stop-color="#644095"/><stop offset="0.209" stop-color="#664298"/><stop offset="0.341" stop-color="#624298"/><stop offset="0.440" stop-color="#4d4498"/><stop offset="0.539" stop-color="#3652a0"/><stop offset="0.670" stop-color="#34529d"/><stop offset="0.802" stop-color="#38529a"/><stop offset="0.901" stop-color="#3c5299"/><stop offset="1.000" stop-color="#405298"/></linearGradient><linearGradient id="b79" x1="83" x2="1600" y1="0" y2="0" gradientUnits="userSpaceOnUse"><stop offset="0.000" stop-color="#613e90"/><stop offset="0.077" stop-color="#644095"/><stop offset="0.209" stop-color="#664298"/><stop offset="0.341" stop-color="#624298"/><stop offset="0.440" stop-color="#4d4498"/><stop offset="0.539" stop-color="#3652a0"/><stop offset="0.670" stop-color="#34529d"/><stop offset="0.802" stop-color="#38529a"/><stop offset="0.901" stop-color="#3c5299"/><stop offset="1.000" stop-color="#405298"/></linearGradient><linearGradient id="b80" x1="83" x2="1600" y1="0" y2="0" gradientUnits="userSpaceOnUse"><stop offset="0.000" stop-color="#623e90"/><stop offset="0.077" stop-color="#644095"/><stop offset="0.209" stop-color="#664298"/><stop offset="0.341" stop-color="#624298"/><stop offset="0.440" stop-color="#4e4498"/><stop offset="0.539" stop-color="#3752a0"/><stop offset="0.670" stop-color="#34529e"/><stop offset="0.802" stop-color="#38529b"/><stop offset="0.901" stop-color="#3c5299"/><stop offset="1.000" stop-color="#405298"/></linearGradient><linearGradient id="b81" x1="83" x2="1600" y1="0" y2="0" gradientUnits="userSpaceOnUse"><stop offset="0.000" stop-color="#623e90"/><stop offset="0.077" stop-color="#644095"/><stop offset="0.209" stop-color="#664298"/><stop offset="0.341" stop-color="#624298"/><stop offset="0.440" stop-color="#4e4498"/><stop offset="0.539" stop-color="#3752a0"/><stop offset="0.670" stop-color="#34529e"/><stop offset="0.802" stop-color="#38529b"/><stop offset="0.901" stop-color="#3c5299"/><stop offset="1.000" stop-color="#405298"/></linearGradient><linearGradient id="b82" x1="83" x2="1600" y1="0" y2="0" gradientUnits="userSpaceOnUse"><stop offset="0.000" stop-color="#623e91"/><stop offset="0.077" stop-color="#644096"/><stop offset="0.209" stop-color="#664298"/><stop offset="0.341" stop-color="#624298"/><stop offset="0.440" stop-color="#4e4498"/><stop offset="0.539" stop-color="#3752a0"/><stop offset="0.670" stop-color="#34529e"/><stop offset="0.802" stop-color="#38529b"/><stop offset="0.901" stop-color="#3c5299"/><stop offset="1.000" stop-color="#405298"/></linearGradient><linearGradient id="b83" x1="83" x2="1600" y1="0" y2="0" gradientUnits="userSpaceOnUse"><stop offset="0.000" stop-color="#623e91"/><stop offset="0.077" stop-color="#644096"/><stop offset="0.209" stop-color="#664298"/><stop offset="0.341" stop-color="#624298"/><stop offset="0.440" stop-color="#4e4498"/><stop offset="0.539" stop-color="#3752a0"/><stop offset="0.670" stop-color="#34529e"/><stop offset="0.802" stop-color="#38529b"/><stop offset="0.901" stop-color="#3c5299"/><stop offset="1.000" stop-color="#405298"/></linearGradient><linearGradient id="b84" x1="83" x2="1600" y1="0" y2="0" gradientUnits="userSpaceOnUse"><stop offset="0.000" stop-color="#623e91"/><stop offset="0.077" stop-color="#644096"/><stop offset="0.209" stop-color="#664298"/><stop offset="0.341" stop-color="#624298"/><stop offset="0.440" stop-color="#4e4498"/><stop offset="0.539" stop-color="#3752a0"/><stop offset="0.670" stop-color="#34529e"/><stop offset="0.802" stop-color="#38529b"/><stop offset="0.901" stop-color="#3c5299"/><stop offset="1.000" stop-color="#405298"/></linearGradient><linearGradient id="b85" x1="83" x2="1600" y1="0" y2="0" gradientUnits="userSpaceOnUse"><stop offset="0.000" stop-color="#623e91"/><stop offset="0.077" stop-color="#644096"/><stop offset="0.209" stop-color="#664298"/><stop offset="0.341" stop-color="#624298"/><stop offset="0.440" stop-color="#4e4498"/><stop offset="0.539" stop-color="#3752a0"/><stop offset="0.670" stop-color="#34529e"/><stop offset="0.802" stop-color="#38529b"/><stop offset="0.901" stop-color="#3c5299"/><stop offset="1.000" stop-color="#405298"/></linearGradient>
<linearGradient id="fillC" x1="83" y1="0" x2="1600" y2="0" gradientUnits="userSpaceOnUse"><stop offset="0.000" stop-color="#67a2e0"/><stop offset="0.143" stop-color="#64a3de"/><stop offset="0.308" stop-color="#5eade2"/><stop offset="0.446" stop-color="#55b4e6"/><stop offset="0.604" stop-color="#4db4e8"/><stop offset="0.802" stop-color="#46b8ee"/><stop offset="1.000" stop-color="#43bbf4"/></linearGradient>
</defs>
<rect x="0" y="0" width="83" height="688" fill="#3e367e"/>
<rect x="83" y="0" width="1517" height="8.5" fill="url(#b0)"/><rect x="83" y="8" width="1517" height="8.5" fill="url(#b1)"/><rect x="83" y="16" width="1517" height="8.5" fill="url(#b2)"/><rect x="83" y="24" width="1517" height="8.5" fill="url(#b3)"/><rect x="83" y="32" width="1517" height="8.5" fill="url(#b4)"/><rect x="83" y="40" width="1517" height="8.5" fill="url(#b5)"/><rect x="83" y="48" width="1517" height="8.5" fill="url(#b6)"/><rect x="83" y="56" width="1517" height="8.5" fill="url(#b7)"/><rect x="83" y="64" width="1517" height="8.5" fill="url(#b8)"/><rect x="83" y="72" width="1517" height="8.5" fill="url(#b9)"/><rect x="83" y="80" width="1517" height="8.5" fill="url(#b10)"/><rect x="83" y="88" width="1517" height="8.5" fill="url(#b11)"/><rect x="83" y="96" width="1517" height="8.5" fill="url(#b12)"/><rect x="83" y="104" width="1517" height="8.5" fill="url(#b13)"/><rect x="83" y="112" width="1517" height="8.5" fill="url(#b14)"/><rect x="83" y="120" width="1517" height="8.5" fill="url(#b15)"/><rect x="83" y="128" width="1517" height="8.5" fill="url(#b16)"/><rect x="83" y="136" width="1517" height="8.5" fill="url(#b17)"/><rect x="83" y="144" width="1517" height="8.5" fill="url(#b18)"/><rect x="83" y="152" width="1517" height="8.5" fill="url(#b19)"/><rect x="83" y="160" width="1517" height="8.5" fill="url(#b20)"/><rect x="83" y="168" width="1517" height="8.5" fill="url(#b21)"/><rect x="83" y="176" width="1517" height="8.5" fill="url(#b22)"/><rect x="83" y="184" width="1517" height="8.5" fill="url(#b23)"/><rect x="83" y="192" width="1517" height="8.5" fill="url(#b24)"/><rect x="83" y="200" width="1517" height="8.5" fill="url(#b25)"/><rect x="83" y="208" width="1517" height="8.5" fill="url(#b26)"/><rect x="83" y="216" width="1517" height="8.5" fill="url(#b27)"/><rect x="83" y="224" width="1517" height="8.5" fill="url(#b28)"/><rect x="83" y="232" width="1517" height="8.5" fill="url(#b29)"/><rect x="83" y="240" width="1517" height="8.5" fill="url(#b30)"/><rect x="83" y="248" width="1517" height="8.5" fill="url(#b31)"/><rect x="83" y="256" width="1517" height="8.5" fill="url(#b32)"/><rect x="83" y="264" width="1517" height="8.5" fill="url(#b33)"/><rect x="83" y="272" width="1517" height="8.5" fill="url(#b34)"/><rect x="83" y="280" width="1517" height="8.5" fill="url(#b35)"/><rect x="83" y="288" width="1517" height="8.5" fill="url(#b36)"/><rect x="83" y="296" width="1517" height="8.5" fill="url(#b37)"/><rect x="83" y="304" width="1517" height="8.5" fill="url(#b38)"/><rect x="83" y="312" width="1517" height="8.5" fill="url(#b39)"/><rect x="83" y="320" width="1517" height="8.5" fill="url(#b40)"/><rect x="83" y="328" width="1517" height="8.5" fill="url(#b41)"/><rect x="83" y="336" width="1517" height="8.5" fill="url(#b42)"/><rect x="83" y="344" width="1517" height="8.5" fill="url(#b43)"/><rect x="83" y="352" width="1517" height="8.5" fill="url(#b44)"/><rect x="83" y="360" width="1517" height="8.5" fill="url(#b45)"/><rect x="83" y="368" width="1517" height="8.5" fill="url(#b46)"/><rect x="83" y="376" width="1517" height="8.5" fill="url(#b47)"/><rect x="83" y="384" width="1517" height="8.5" fill="url(#b48)"/><rect x="83" y="392" width="1517" height="8.5" fill="url(#b49)"/><rect x="83" y="400" width="1517" height="8.5" fill="url(#b50)"/><rect x="83" y="408" width="1517" height="8.5" fill="url(#b51)"/><rect x="83" y="416" width="1517" height="8.5" fill="url(#b52)"/><rect x="83" y="424" width="1517" height="8.5" fill="url(#b53)"/><rect x="83" y="432" width="1517" height="8.5" fill="url(#b54)"/><rect x="83" y="440" width="1517" height="8.5" fill="url(#b55)"/><rect x="83" y="448" width="1517" height="8.5" fill="url(#b56)"/><rect x="83" y="456" width="1517" height="8.5" fill="url(#b57)"/><rect x="83" y="464" width="1517" height="8.5" fill="url(#b58)"/><rect x="83" y="472" width="1517" height="8.5" fill="url(#b59)"/><rect x="83" y="480" width="1517" height="8.5" fill="url(#b60)"/><rect x="83" y="488" width="1517" height="8.5" fill="url(#b61)"/><rect x="83" y="496" width="1517" height="8.5" fill="url(#b62)"/><rect x="83" y="504" width="1517" height="8.5" fill="url(#b63)"/><rect x="83" y="512" width="1517" height="8.5" fill="url(#b64)"/><rect x="83" y="520" width="1517" height="8.5" fill="url(#b65)"/><rect x="83" y="528" width="1517" height="8.5" fill="url(#b66)"/><rect x="83" y="536" width="1517" height="8.5" fill="url(#b67)"/><rect x="83" y="544" width="1517" height="8.5" fill="url(#b68)"/><rect x="83" y="552" width="1517" height="8.5" fill="url(#b69)"/><rect x="83" y="560" width="1517" height="8.5" fill="url(#b70)"/><rect x="83" y="568" width="1517" height="8.5" fill="url(#b71)"/><rect x="83" y="576" width="1517" height="8.5" fill="url(#b72)"/><rect x="83" y="584" width="1517" height="8.5" fill="url(#b73)"/><rect x="83" y="592" width="1517" height="8.5" fill="url(#b74)"/><rect x="83" y="600" width="1517" height="8.5" fill="url(#b75)"/><rect x="83" y="608" width="1517" height="8.5" fill="url(#b76)"/><rect x="83" y="616" width="1517" height="8.5" fill="url(#b77)"/><rect x="83" y="624" width="1517" height="8.5" fill="url(#b78)"/><rect x="83" y="632" width="1517" height="8.5" fill="url(#b79)"/><rect x="83" y="640" width="1517" height="8.5" fill="url(#b80)"/><rect x="83" y="648" width="1517" height="8.5" fill="url(#b81)"/><rect x="83" y="656" width="1517" height="8.5" fill="url(#b82)"/><rect x="83" y="664" width="1517" height="8.5" fill="url(#b83)"/><rect x="83" y="672" width="1517" height="8.5" fill="url(#b84)"/><rect x="83" y="680" width="1517" height="8.5" fill="url(#b85)"/>
<path d="M83.0,226.0 L85.5,225.8 L89.7,235.8 L91.3,256.7 L93.8,248.3 L98.0,245.8 L100.5,217.5 L103.8,225.8 L107.7,227.5 L110.5,248.3 L115.5,266.7 L118.0,217.5 L120.0,220.8 L121.7,271.7 L127.2,274.2 L131.3,295.8 L137.2,280.8 L142.2,290.0 L146.0,280.8 L151.0,310.0 L154.7,295.8 L159.7,300.0 L163.0,316.7 L168.6,310.0 L174.1,324.4 L178.8,321.7 L183.0,318.9 L186.3,328.9 L190.8,320.0 L195.2,345.6 L199.7,340.0 L204.1,328.9 L207.4,348.9 L213.0,328.9 L216.3,331.5 L219.7,334.2 L223.0,338.9 L226.3,340.1 L229.7,340.0 L234.1,350.0 L239.7,334.4 L244.1,338.3 L248.6,345.6 L252.3,351.6 L256.0,356.9 L259.7,363.3 L263.0,351.0 L266.3,342.2 L270.8,360.0 L276.3,357.8 L280.8,353.3 L285.3,365.0 L289.8,376.7 L293.4,366.9 L297.1,375.5 L302.0,349.8 L308.1,358.3 L311.8,373.0 L316.7,363.2 L320.9,366.2 L325.2,373.0 L331.3,362.0 L335.0,375.5 L341.1,364.4 L346.0,376.7 L350.9,360.8 L355.8,376.7 L360.7,363.2 L364.4,364.4 L370.0,354.7 L374.1,369.3 L377.8,358.3 L382.7,365.7 L386.4,368.5 L390.0,371.8 L394.9,362.0 L399.8,373.0 L403.5,359.6 L408.4,377.9 L414.5,359.6 L418.1,377.9 L422.4,371.3 L426.7,368.1 L431.6,379.1 L436.5,370.6 L440.1,377.9 L446.3,370.6 L450.0,375.7 L453.6,384.0 L457.3,369.3 L460.9,376.7 L464.6,372.1 L468.3,368.1 L471.9,376.7 L476.8,363.2 L480.0,366.9 L484.2,359.4 L487.6,367.0 L491.1,371.9 L495.3,359.4 L500.8,374.7 L506.4,355.3 L511.9,373.3 L518.3,355.3 L524.4,385.8 L530.0,374.7 L533.2,379.2 L536.5,385.7 L539.7,392.8 L543.2,386.4 L546.7,378.9 L550.2,384.1 L553.6,385.8 L559.2,378.9 L563.3,392.8 L567.0,388.5 L570.7,383.1 L574.4,378.9 L577.2,396.9 L581.4,390.0 L586.9,396.9 L592.5,392.8 L595.3,359.4 L600.8,388.6 L606.4,403.9 L610.6,390.0 L616.1,394.2 L620.2,397.5 L624.4,396.9 L627.7,389.1 L630.9,386.3 L634.2,378.9 L638.4,394.0 L642.5,410.8 L646.0,403.1 L649.4,398.3 L653.6,403.0 L657.8,410.8 L663.3,399.7 L666.6,404.0 L669.8,411.2 L673.1,415.0 L678.6,395.6 L682.1,405.7 L685.6,418.3 L689.0,410.3 L692.5,401.7 L695.3,411.4 L698.9,400.3 L703.3,409.2 L707.8,416.9 L711.2,410.1 L714.7,404.4 L719.4,415.6 L723.1,404.4 L725.8,412.8 L729.3,407.4 L732.8,401.7 L736.9,412.8 L740.6,390.6 L745.3,412.8 L748.8,406.2 L752.2,403.1 L755.4,399.9 L758.7,399.1 L761.9,398.9 L766.1,396.1 L770.3,371.1 L774.4,398.9 L780.0,401.7 L783.5,405.2 L786.9,407.2 L792.5,400.3 L798.1,404.4 L801.5,402.8 L805.0,401.7 L807.8,410.0 L811.5,402.3 L815.2,396.5 L818.9,389.2 L822.3,398.7 L825.8,408.6 L830.0,429.4 L832.8,408.6 L835.6,426.7 L838.3,398.9 L841.1,428.1 L845.3,411.4 L849.5,418.2 L853.6,426.7 L856.8,425.5 L860.1,422.8 L863.3,419.7 L866.8,410.4 L870.3,403.1 L873.5,410.8 L876.8,418.0 L880.0,425.3 L885.6,428.6 L888.3,410.6 L893.9,414.7 L899.4,414.7 L903.6,427.2 L907.8,416.9 L911.9,403.6 L914.7,423.1 L918.9,410.6 L924.4,407.8 L930.0,420.3 L932.8,410.6 L936.9,418.9 L942.5,420.3 L948.1,428.6 L952.8,416.1 L956.4,428.6 L959.8,430.9 L963.3,431.4 L967.5,417.5 L971.1,403.6 L974.4,424.4 L980.0,417.5 L983.5,420.8 L986.9,425.8 L992.5,421.7 L996.0,426.4 L999.4,427.2 L1002.9,419.4 L1006.4,414.7 L1010.6,438.3 L1016.1,431.4 L1021.7,432.8 L1025.8,432.5 L1030.0,432.8 L1034.2,445.3 L1039.7,432.8 L1043.9,442.5 L1046.7,434.2 L1052.2,439.7 L1055.9,443.5 L1059.6,443.9 L1063.3,448.1 L1068.9,432.8 L1072.6,433.7 L1076.3,432.8 L1080.0,435.6 L1085.6,433.3 L1089.7,443.1 L1095.3,422.2 L1099.4,441.7 L1102.2,433.3 L1107.8,422.2 L1113.3,450.0 L1118.9,444.4 L1123.1,440.2 L1127.2,434.7 L1132.8,455.6 L1136.2,446.2 L1139.7,434.7 L1143.9,448.6 L1148.1,456.9 L1152.2,448.6 L1155.0,458.3 L1160.6,440.3 L1164.7,462.5 L1167.5,444.4 L1173.1,459.7 L1178.6,468.1 L1182.8,456.9 L1186.2,456.5 L1189.7,455.6 L1196.1,440.3 L1200.8,462.5 L1204.3,465.4 L1207.8,465.3 L1211.9,457.6 L1216.1,451.4 L1219.6,466.1 L1223.1,479.2 L1226.5,474.0 L1230.0,468.1 L1234.2,480.6 L1238.3,472.2 L1242.0,476.7 L1245.7,480.4 L1249.4,484.7 L1253.6,481.9 L1257.8,501.4 L1261.9,481.9 L1265.4,482.6 L1268.9,480.6 L1273.1,494.4 L1276.5,490.6 L1280.0,483.3 L1285.0,479.7 L1288.8,485.8 L1292.5,492.2 L1296.7,490.8 L1300.0,508.9 L1305.0,488.1 L1309.2,503.3 L1314.7,499.2 L1318.9,501.9 L1323.1,486.7 L1325.8,501.9 L1328.6,490.8 L1332.8,506.1 L1336.9,495.0 L1341.1,494.3 L1345.3,492.2 L1349.4,497.4 L1353.6,506.1 L1359.2,495.0 L1362.7,506.9 L1366.1,517.2 L1370.3,500.6 L1374.4,504.7 L1378.6,499.2 L1382.1,504.6 L1385.6,508.9 L1391.1,515.8 L1394.6,509.5 L1398.1,499.2 L1403.6,518.6 L1407.8,517.8 L1411.9,514.4 L1415.4,521.9 L1418.9,531.1 L1424.4,518.6 L1428.6,524.4 L1432.8,531.1 L1436.9,526.2 L1441.1,520.0 L1446.7,529.7 L1450.8,531.1 L1454.4,500.6 L1457.2,449.2 L1460.6,464.4 L1463.3,513.1 L1468.9,517.2 L1474.4,522.0 L1479.0,526.0 L1484.0,532.0 L1487.0,528.0 L1489.0,536.0 L1492.0,528.0 L1495.0,534.0 L1499.0,529.0 L1502.7,526.8 L1506.3,528.2 L1510.0,528.0 L1516.0,531.0 L1522.0,536.0 L1525.0,529.0 L1528.0,541.0 L1532.0,530.0 L1536.0,530.0 L1539.5,528.4 L1543.0,528.0 L1546.5,527.5 L1550.0,529.0 L1554.0,532.0 L1560.0,537.0 L1564.0,530.0 L1567.0,537.0 L1572.0,530.0 L1575.2,530.9 L1578.4,528.1 L1581.6,528.4 L1584.8,528.8 L1588.0,529.0 L1593.0,535.0 L1597.0,530.0 L1597.3,688 L83,688 Z" fill="url(#fillC)" fill-opacity="0.65"/>
<g fill="#b8acff" fill-opacity="0.3"><rect x="127.18" y="0" width="2.4" height="688" /><rect x="173.15" y="0" width="2.4" height="688" /><rect x="219.12" y="0" width="2.4" height="688" /><rect x="265.09" y="0" width="2.4" height="688" /><rect x="311.06" y="0" width="2.4" height="688" /><rect x="357.04" y="0" width="2.4" height="688" /><rect x="403.01" y="0" width="2.4" height="688" /><rect x="448.98" y="0" width="2.4" height="688" /><rect x="494.95" y="0" width="2.4" height="688" /><rect x="540.92" y="0" width="2.4" height="688" /><rect x="586.89" y="0" width="2.4" height="688" /><rect x="632.86" y="0" width="2.4" height="688" /><rect x="678.83" y="0" width="2.4" height="688" /><rect x="724.80" y="0" width="2.4" height="688" /><rect x="770.77" y="0" width="2.4" height="688" /><rect x="816.75" y="0" width="2.4" height="688" /><rect x="862.72" y="0" width="2.4" height="688" /><rect x="908.69" y="0" width="2.4" height="688" /><rect x="954.66" y="0" width="2.4" height="688" /><rect x="1000.63" y="0" width="2.4" height="688" /><rect x="1046.60" y="0" width="2.4" height="688" /><rect x="1092.57" y="0" width="2.4" height="688" /><rect x="1138.54" y="0" width="2.4" height="688" /><rect x="1184.51" y="0" width="2.4" height="688" /><rect x="1230.48" y="0" width="2.4" height="688" /><rect x="1276.46" y="0" width="2.4" height="688" /><rect x="1322.43" y="0" width="2.4" height="688" /><rect x="1368.40" y="0" width="2.4" height="688" /><rect x="1414.37" y="0" width="2.4" height="688" /><rect x="1460.34" y="0" width="2.4" height="688" /><rect x="1506.31" y="0" width="2.4" height="688" /><rect x="1552.28" y="0" width="2.4" height="688" /><rect x="1598.25" y="0" width="2.4" height="688" /></g>
<path d="M83.0,409.0 L84.6,408.9 L85.4,366.7 L88.6,318.9 L90.1,342.2 L91.4,326.7 L92.3,375.6 L95.2,391.1 L98.1,383.3 L100.8,405.6 L104.1,386.7 L106.3,397.8 L109.7,374.4 L113.0,393.3 L118.6,378.9 L124.1,411.1 L130.1,450.0 L136.3,426.7 L141.9,415.6 L146.3,428.9 L150.8,415.6 L156.3,432.2 L161.9,435.6 L166.3,455.6 L170.8,438.9 L175.2,455.6 L178.1,435.6 L180.8,472.2 L185.2,452.5 L189.7,433.3 L194.1,448.0 L198.6,462.2 L204.1,455.6 L207.4,468.6 L210.8,477.8 L214.1,470.9 L217.4,464.4 L220.8,477.2 L224.1,490.0 L227.4,482.3 L230.8,472.3 L234.1,465.6 L238.3,465.1 L242.6,464.4 L246.7,475.0 L250.8,484.4 L254.7,489.0 L258.6,491.1 L263.0,487.1 L267.4,486.7 L273.0,483.3 L276.3,497.8 L280.0,506.3 L283.6,499.9 L287.3,495.3 L293.4,501.4 L297.1,496.5 L302.0,516.0 L305.7,487.9 L309.3,511.1 L314.2,495.3 L319.1,509.9 L323.5,520.9 L327.7,500.1 L331.9,496.5 L336.2,496.5 L339.5,502.7 L342.7,507.1 L346.0,511.1 L350.9,513.6 L355.8,507.5 L359.5,514.1 L363.1,526.8 L366.8,533.2 L371.7,511.1 L374.1,522.2 L376.6,487.9 L382.7,518.5 L387.6,512.4 L392.5,513.6 L397.4,535.6 L401.1,527.4 L404.7,515.9 L408.4,505.0 L412.0,508.6 L415.7,511.1 L420.0,520.6 L424.3,533.2 L426.7,516.0 L432.8,535.6 L438.9,523.4 L442.2,522.1 L445.4,525.1 L448.7,525.8 L452.4,541.7 L456.0,530.7 L462.2,518.5 L468.3,546.6 L472.0,536.7 L475.6,530.7 L480.0,535.6 L485.6,520.6 L488.3,534.4 L491.7,512.2 L494.9,526.1 L498.1,542.8 L502.2,533.1 L507.8,545.6 L512.8,528.9 L517.5,544.2 L523.1,531.7 L528.6,541.4 L532.1,536.8 L535.6,534.4 L539.8,537.9 L543.9,545.6 L547.1,538.5 L550.4,531.4 L553.6,524.7 L557.1,531.1 L560.6,534.4 L564.0,541.4 L567.5,548.3 L571.7,531.7 L574.9,539.7 L578.2,546.5 L581.4,553.9 L585.5,547.0 L589.7,538.6 L593.2,546.8 L596.7,555.3 L600.2,556.4 L603.6,559.4 L607.8,569.2 L610.6,545.6 L616.1,556.7 L620.2,550.5 L624.4,540.0 L627.9,549.8 L631.4,555.3 L634.6,559.1 L637.9,560.8 L641.1,562.2 L646.7,546.9 L650.2,553.0 L653.6,560.8 L657.1,563.8 L660.6,569.2 L664.7,552.5 L668.2,553.0 L671.7,555.3 L675.9,551.6 L680.0,551.7 L682.8,566.9 L686.9,551.7 L692.5,565.6 L698.1,553.1 L703.6,562.8 L709.2,566.9 L713.3,554.4 L716.7,579.4 L721.7,557.2 L725.8,544.7 L730.0,558.6 L735.6,551.7 L739.3,551.0 L743.0,547.5 L746.7,546.1 L749.4,537.8 L752.2,566.9 L756.4,540.6 L760.6,529.4 L764.7,493.3 L768.9,415.6 L770.3,372.5 L773.1,423.9 L775.8,465.6 L778.6,457.2 L782.8,493.3 L786.9,533.6 L791.1,528.1 L796.7,543.3 L799.4,562.8 L802.2,539.2 L806.4,560.0 L810.6,554.4 L814.3,559.7 L818.0,561.4 L821.7,565.6 L825.2,561.4 L828.6,553.1 L832.8,573.9 L838.3,557.2 L843.9,551.7 L848.1,569.7 L850.8,557.2 L854.3,560.1 L857.8,560.0 L861.2,564.8 L864.7,573.9 L867.9,571.7 L871.2,573.8 L874.4,571.1 L878.6,580.8 L884.2,563.3 L887.7,557.6 L891.1,552.2 L893.9,588.3 L898.9,555.0 L902.2,563.3 L906.4,557.8 L910.5,568.2 L914.7,574.4 L920.3,568.9 L924.5,574.0 L928.6,580.0 L932.1,567.7 L935.6,559.2 L939.8,573.6 L943.9,586.9 L947.3,575.0 L950.8,560.6 L954.3,570.7 L957.8,582.8 L961.9,593.9 L966.1,575.8 L968.9,596.7 L973.1,571.7 L976.3,576.8 L979.6,584.8 L982.8,592.5 L986.9,581.4 L990.6,585.7 L994.4,587.1 L998.1,588.3 L1002.2,579.7 L1006.4,574.4 L1009.8,578.9 L1013.3,585.6 L1017.5,580.3 L1021.7,578.6 L1025.2,577.4 L1028.6,580.0 L1032.8,570.3 L1036.9,575.8 L1039.7,568.9 L1043.2,578.6 L1046.7,585.6 L1049.9,581.8 L1053.2,581.2 L1056.4,578.6 L1062.8,563.3 L1065.6,607.8 L1071.7,580.0 L1075.8,567.3 L1080.0,555.0 L1082.8,548.6 L1086.9,559.7 L1092.5,563.9 L1098.1,583.3 L1101.7,566.7 L1106.4,581.9 L1109.6,572.7 L1112.9,567.2 L1116.1,558.3 L1121.7,576.4 L1125.2,580.3 L1128.6,587.5 L1131.4,575.0 L1134.8,584.0 L1138.3,591.7 L1142.2,574.0 L1146.1,559.7 L1149.8,571.2 L1153.6,583.3 L1157.1,578.6 L1160.6,576.4 L1164.7,584.7 L1168.2,577.4 L1171.7,572.2 L1175.8,586.1 L1180.0,586.1 L1184.2,581.9 L1187.4,587.4 L1190.7,589.4 L1193.9,594.4 L1199.4,570.8 L1202.9,580.1 L1206.4,586.1 L1210.6,586.1 L1214.7,602.8 L1218.9,594.6 L1223.1,588.9 L1228.6,611.1 L1234.2,597.2 L1239.7,608.3 L1243.2,609.2 L1246.7,611.1 L1250.2,609.2 L1253.6,604.2 L1257.1,602.7 L1260.6,600.0 L1266.1,608.3 L1271.7,602.8 L1275.8,623.6 L1280.0,608.3 L1285.6,590.8 L1291.1,615.8 L1296.7,600.6 L1300.8,604.7 L1305.0,611.3 L1309.2,621.4 L1313.3,608.9 L1316.8,616.6 L1320.3,620.0 L1325.8,604.7 L1330.0,550.6 L1335.6,618.6 L1339.7,603.3 L1343.2,595.8 L1346.7,590.8 L1350.2,594.6 L1353.6,600.6 L1356.4,547.8 L1361.9,607.5 L1366.1,595.0 L1371.7,524.2 L1375.8,542.2 L1377.2,595.0 L1380.0,550.6 L1382.8,585.3 L1386.9,561.7 L1391.1,576.9 L1394.6,550.3 L1398.1,521.4 L1402.2,586.7 L1406.4,599.2 L1410.6,564.4 L1414.7,595.0 L1417.9,607.2 L1421.2,620.0 L1424.4,633.9 L1430.0,639.4 L1434.2,624.2 L1437.7,627.9 L1441.1,635.3 L1444.8,634.9 L1448.5,638.4 L1452.2,639.4 L1457.8,610.3 L1461.9,633.9 L1465.2,634.2 L1468.4,637.1 L1471.7,638.1 L1478.0,639.0 L1481.5,641.9 L1485.0,646.0 L1489.0,650.0 L1492.0,646.0 L1495.3,644.1 L1498.7,644.7 L1502.0,641.0 L1505.3,640.9 L1508.7,641.3 L1512.0,641.0 L1516.0,644.6 L1520.0,645.0 L1524.0,646.1 L1528.0,650.0 L1532.0,645.5 L1536.0,644.0 L1540.0,644.8 L1544.0,642.0 L1547.3,644.7 L1550.7,643.6 L1554.0,646.0 L1560.0,650.0 L1566.0,647.0 L1570.5,643.1 L1575.0,642.0 L1578.2,643.6 L1581.5,644.9 L1584.8,642.2 L1588.0,644.0 L1594.0,647.0 L1597.0,645.0 L1597.3,688 L83,688 Z" fill="#5c5cc0"/>
<path d="M83.0,226.0 L85.5,225.8 L89.7,235.8 L91.3,256.7 L93.8,248.3 L98.0,245.8 L100.5,217.5 L103.8,225.8 L107.7,227.5 L110.5,248.3 L115.5,266.7 L118.0,217.5 L120.0,220.8 L121.7,271.7 L127.2,274.2 L131.3,295.8 L137.2,280.8 L142.2,290.0 L146.0,280.8 L151.0,310.0 L154.7,295.8 L159.7,300.0 L163.0,316.7 L168.6,310.0 L174.1,324.4 L178.8,321.7 L183.0,318.9 L186.3,328.9 L190.8,320.0 L195.2,345.6 L199.7,340.0 L204.1,328.9 L207.4,348.9 L213.0,328.9 L216.3,331.5 L219.7,334.2 L223.0,338.9 L226.3,340.1 L229.7,340.0 L234.1,350.0 L239.7,334.4 L244.1,338.3 L248.6,345.6 L252.3,351.6 L256.0,356.9 L259.7,363.3 L263.0,351.0 L266.3,342.2 L270.8,360.0 L276.3,357.8 L280.8,353.3 L285.3,365.0 L289.8,376.7 L293.4,366.9 L297.1,375.5 L302.0,349.8 L308.1,358.3 L311.8,373.0 L316.7,363.2 L320.9,366.2 L325.2,373.0 L331.3,362.0 L335.0,375.5 L341.1,364.4 L346.0,376.7 L350.9,360.8 L355.8,376.7 L360.7,363.2 L364.4,364.4 L370.0,354.7 L374.1,369.3 L377.8,358.3 L382.7,365.7 L386.4,368.5 L390.0,371.8 L394.9,362.0 L399.8,373.0 L403.5,359.6 L408.4,377.9 L414.5,359.6 L418.1,377.9 L422.4,371.3 L426.7,368.1 L431.6,379.1 L436.5,370.6 L440.1,377.9 L446.3,370.6 L450.0,375.7 L453.6,384.0 L457.3,369.3 L460.9,376.7 L464.6,372.1 L468.3,368.1 L471.9,376.7 L476.8,363.2 L480.0,366.9 L484.2,359.4 L487.6,367.0 L491.1,371.9 L495.3,359.4 L500.8,374.7 L506.4,355.3 L511.9,373.3 L518.3,355.3 L524.4,385.8 L530.0,374.7 L533.2,379.2 L536.5,385.7 L539.7,392.8 L543.2,386.4 L546.7,378.9 L550.2,384.1 L553.6,385.8 L559.2,378.9 L563.3,392.8 L567.0,388.5 L570.7,383.1 L574.4,378.9 L577.2,396.9 L581.4,390.0 L586.9,396.9 L592.5,392.8 L595.3,359.4 L600.8,388.6 L606.4,403.9 L610.6,390.0 L616.1,394.2 L620.2,397.5 L624.4,396.9 L627.7,389.1 L630.9,386.3 L634.2,378.9 L638.4,394.0 L642.5,410.8 L646.0,403.1 L649.4,398.3 L653.6,403.0 L657.8,410.8 L663.3,399.7 L666.6,404.0 L669.8,411.2 L673.1,415.0 L678.6,395.6 L682.1,405.7 L685.6,418.3 L689.0,410.3 L692.5,401.7 L695.3,411.4 L698.9,400.3 L703.3,409.2 L707.8,416.9 L711.2,410.1 L714.7,404.4 L719.4,415.6 L723.1,404.4 L725.8,412.8 L729.3,407.4 L732.8,401.7 L736.9,412.8 L740.6,390.6 L745.3,412.8 L748.8,406.2 L752.2,403.1 L755.4,399.9 L758.7,399.1 L761.9,398.9 L766.1,396.1 L770.3,371.1 L774.4,398.9 L780.0,401.7 L783.5,405.2 L786.9,407.2 L792.5,400.3 L798.1,404.4 L801.5,402.8 L805.0,401.7 L807.8,410.0 L811.5,402.3 L815.2,396.5 L818.9,389.2 L822.3,398.7 L825.8,408.6 L830.0,429.4 L832.8,408.6 L835.6,426.7 L838.3,398.9 L841.1,428.1 L845.3,411.4 L849.5,418.2 L853.6,426.7 L856.8,425.5 L860.1,422.8 L863.3,419.7 L866.8,410.4 L870.3,403.1 L873.5,410.8 L876.8,418.0 L880.0,425.3 L885.6,428.6 L888.3,410.6 L893.9,414.7 L899.4,414.7 L903.6,427.2 L907.8,416.9 L911.9,403.6 L914.7,423.1 L918.9,410.6 L924.4,407.8 L930.0,420.3 L932.8,410.6 L936.9,418.9 L942.5,420.3 L948.1,428.6 L952.8,416.1 L956.4,428.6 L959.8,430.9 L963.3,431.4 L967.5,417.5 L971.1,403.6 L974.4,424.4 L980.0,417.5 L983.5,420.8 L986.9,425.8 L992.5,421.7 L996.0,426.4 L999.4,427.2 L1002.9,419.4 L1006.4,414.7 L1010.6,438.3 L1016.1,431.4 L1021.7,432.8 L1025.8,432.5 L1030.0,432.8 L1034.2,445.3 L1039.7,432.8 L1043.9,442.5 L1046.7,434.2 L1052.2,439.7 L1055.9,443.5 L1059.6,443.9 L1063.3,448.1 L1068.9,432.8 L1072.6,433.7 L1076.3,432.8 L1080.0,435.6 L1085.6,433.3 L1089.7,443.1 L1095.3,422.2 L1099.4,441.7 L1102.2,433.3 L1107.8,422.2 L1113.3,450.0 L1118.9,444.4 L1123.1,440.2 L1127.2,434.7 L1132.8,455.6 L1136.2,446.2 L1139.7,434.7 L1143.9,448.6 L1148.1,456.9 L1152.2,448.6 L1155.0,458.3 L1160.6,440.3 L1164.7,462.5 L1167.5,444.4 L1173.1,459.7 L1178.6,468.1 L1182.8,456.9 L1186.2,456.5 L1189.7,455.6 L1196.1,440.3 L1200.8,462.5 L1204.3,465.4 L1207.8,465.3 L1211.9,457.6 L1216.1,451.4 L1219.6,466.1 L1223.1,479.2 L1226.5,474.0 L1230.0,468.1 L1234.2,480.6 L1238.3,472.2 L1242.0,476.7 L1245.7,480.4 L1249.4,484.7 L1253.6,481.9 L1257.8,501.4 L1261.9,481.9 L1265.4,482.6 L1268.9,480.6 L1273.1,494.4 L1276.5,490.6 L1280.0,483.3 L1285.0,479.7 L1288.8,485.8 L1292.5,492.2 L1296.7,490.8 L1300.0,508.9 L1305.0,488.1 L1309.2,503.3 L1314.7,499.2 L1318.9,501.9 L1323.1,486.7 L1325.8,501.9 L1328.6,490.8 L1332.8,506.1 L1336.9,495.0 L1341.1,494.3 L1345.3,492.2 L1349.4,497.4 L1353.6,506.1 L1359.2,495.0 L1362.7,506.9 L1366.1,517.2 L1370.3,500.6 L1374.4,504.7 L1378.6,499.2 L1382.1,504.6 L1385.6,508.9 L1391.1,515.8 L1394.6,509.5 L1398.1,499.2 L1403.6,518.6 L1407.8,517.8 L1411.9,514.4 L1415.4,521.9 L1418.9,531.1 L1424.4,518.6 L1428.6,524.4 L1432.8,531.1 L1436.9,526.2 L1441.1,520.0 L1446.7,529.7 L1450.8,531.1 L1454.4,500.6 L1457.2,449.2 L1460.6,464.4 L1463.3,513.1 L1468.9,517.2 L1474.4,522.0 L1479.0,526.0 L1484.0,532.0 L1487.0,528.0 L1489.0,536.0 L1492.0,528.0 L1495.0,534.0 L1499.0,529.0 L1502.7,526.8 L1506.3,528.2 L1510.0,528.0 L1516.0,531.0 L1522.0,536.0 L1525.0,529.0 L1528.0,541.0 L1532.0,530.0 L1536.0,530.0 L1539.5,528.4 L1543.0,528.0 L1546.5,527.5 L1550.0,529.0 L1554.0,532.0 L1560.0,537.0 L1564.0,530.0 L1567.0,537.0 L1572.0,530.0 L1575.2,530.9 L1578.4,528.1 L1581.6,528.4 L1584.8,528.8 L1588.0,529.0 L1593.0,535.0 L1597.0,530.0" fill="none" stroke="#3fe6e6" stroke-width="1.35" stroke-linejoin="round"/>
<path d="M83.0,409.0 L84.6,408.9 L85.4,366.7 L88.6,318.9 L90.1,342.2 L91.4,326.7 L92.3,375.6 L95.2,391.1 L98.1,383.3 L100.8,405.6 L104.1,386.7 L106.3,397.8 L109.7,374.4 L113.0,393.3 L118.6,378.9 L124.1,411.1 L130.1,450.0 L136.3,426.7 L141.9,415.6 L146.3,428.9 L150.8,415.6 L156.3,432.2 L161.9,435.6 L166.3,455.6 L170.8,438.9 L175.2,455.6 L178.1,435.6 L180.8,472.2 L185.2,452.5 L189.7,433.3 L194.1,448.0 L198.6,462.2 L204.1,455.6 L207.4,468.6 L210.8,477.8 L214.1,470.9 L217.4,464.4 L220.8,477.2 L224.1,490.0 L227.4,482.3 L230.8,472.3 L234.1,465.6 L238.3,465.1 L242.6,464.4 L246.7,475.0 L250.8,484.4 L254.7,489.0 L258.6,491.1 L263.0,487.1 L267.4,486.7 L273.0,483.3 L276.3,497.8 L280.0,506.3 L283.6,499.9 L287.3,495.3 L293.4,501.4 L297.1,496.5 L302.0,516.0 L305.7,487.9 L309.3,511.1 L314.2,495.3 L319.1,509.9 L323.5,520.9 L327.7,500.1 L331.9,496.5 L336.2,496.5 L339.5,502.7 L342.7,507.1 L346.0,511.1 L350.9,513.6 L355.8,507.5 L359.5,514.1 L363.1,526.8 L366.8,533.2 L371.7,511.1 L374.1,522.2 L376.6,487.9 L382.7,518.5 L387.6,512.4 L392.5,513.6 L397.4,535.6 L401.1,527.4 L404.7,515.9 L408.4,505.0 L412.0,508.6 L415.7,511.1 L420.0,520.6 L424.3,533.2 L426.7,516.0 L432.8,535.6 L438.9,523.4 L442.2,522.1 L445.4,525.1 L448.7,525.8 L452.4,541.7 L456.0,530.7 L462.2,518.5 L468.3,546.6 L472.0,536.7 L475.6,530.7 L480.0,535.6 L485.6,520.6 L488.3,534.4 L491.7,512.2 L494.9,526.1 L498.1,542.8 L502.2,533.1 L507.8,545.6 L512.8,528.9 L517.5,544.2 L523.1,531.7 L528.6,541.4 L532.1,536.8 L535.6,534.4 L539.8,537.9 L543.9,545.6 L547.1,538.5 L550.4,531.4 L553.6,524.7 L557.1,531.1 L560.6,534.4 L564.0,541.4 L567.5,548.3 L571.7,531.7 L574.9,539.7 L578.2,546.5 L581.4,553.9 L585.5,547.0 L589.7,538.6 L593.2,546.8 L596.7,555.3 L600.2,556.4 L603.6,559.4 L607.8,569.2 L610.6,545.6 L616.1,556.7 L620.2,550.5 L624.4,540.0 L627.9,549.8 L631.4,555.3 L634.6,559.1 L637.9,560.8 L641.1,562.2 L646.7,546.9 L650.2,553.0 L653.6,560.8 L657.1,563.8 L660.6,569.2 L664.7,552.5 L668.2,553.0 L671.7,555.3 L675.9,551.6 L680.0,551.7 L682.8,566.9 L686.9,551.7 L692.5,565.6 L698.1,553.1 L703.6,562.8 L709.2,566.9 L713.3,554.4 L716.7,579.4 L721.7,557.2 L725.8,544.7 L730.0,558.6 L735.6,551.7 L739.3,551.0 L743.0,547.5 L746.7,546.1 L749.4,537.8 L752.2,566.9 L756.4,540.6 L760.6,529.4 L764.7,493.3 L768.9,415.6 L770.3,372.5 L773.1,423.9 L775.8,465.6 L778.6,457.2 L782.8,493.3 L786.9,533.6 L791.1,528.1 L796.7,543.3 L799.4,562.8 L802.2,539.2 L806.4,560.0 L810.6,554.4 L814.3,559.7 L818.0,561.4 L821.7,565.6 L825.2,561.4 L828.6,553.1 L832.8,573.9 L838.3,557.2 L843.9,551.7 L848.1,569.7 L850.8,557.2 L854.3,560.1 L857.8,560.0 L861.2,564.8 L864.7,573.9 L867.9,571.7 L871.2,573.8 L874.4,571.1 L878.6,580.8 L884.2,563.3 L887.7,557.6 L891.1,552.2 L893.9,588.3 L898.9,555.0 L902.2,563.3 L906.4,557.8 L910.5,568.2 L914.7,574.4 L920.3,568.9 L924.5,574.0 L928.6,580.0 L932.1,567.7 L935.6,559.2 L939.8,573.6 L943.9,586.9 L947.3,575.0 L950.8,560.6 L954.3,570.7 L957.8,582.8 L961.9,593.9 L966.1,575.8 L968.9,596.7 L973.1,571.7 L976.3,576.8 L979.6,584.8 L982.8,592.5 L986.9,581.4 L990.6,585.7 L994.4,587.1 L998.1,588.3 L1002.2,579.7 L1006.4,574.4 L1009.8,578.9 L1013.3,585.6 L1017.5,580.3 L1021.7,578.6 L1025.2,577.4 L1028.6,580.0 L1032.8,570.3 L1036.9,575.8 L1039.7,568.9 L1043.2,578.6 L1046.7,585.6 L1049.9,581.8 L1053.2,581.2 L1056.4,578.6 L1062.8,563.3 L1065.6,607.8 L1071.7,580.0 L1075.8,567.3 L1080.0,555.0 L1082.8,548.6 L1086.9,559.7 L1092.5,563.9 L1098.1,583.3 L1101.7,566.7 L1106.4,581.9 L1109.6,572.7 L1112.9,567.2 L1116.1,558.3 L1121.7,576.4 L1125.2,580.3 L1128.6,587.5 L1131.4,575.0 L1134.8,584.0 L1138.3,591.7 L1142.2,574.0 L1146.1,559.7 L1149.8,571.2 L1153.6,583.3 L1157.1,578.6 L1160.6,576.4 L1164.7,584.7 L1168.2,577.4 L1171.7,572.2 L1175.8,586.1 L1180.0,586.1 L1184.2,581.9 L1187.4,587.4 L1190.7,589.4 L1193.9,594.4 L1199.4,570.8 L1202.9,580.1 L1206.4,586.1 L1210.6,586.1 L1214.7,602.8 L1218.9,594.6 L1223.1,588.9 L1228.6,611.1 L1234.2,597.2 L1239.7,608.3 L1243.2,609.2 L1246.7,611.1 L1250.2,609.2 L1253.6,604.2 L1257.1,602.7 L1260.6,600.0 L1266.1,608.3 L1271.7,602.8 L1275.8,623.6 L1280.0,608.3 L1285.6,590.8 L1291.1,615.8 L1296.7,600.6 L1300.8,604.7 L1305.0,611.3 L1309.2,621.4 L1313.3,608.9 L1316.8,616.6 L1320.3,620.0 L1325.8,604.7 L1330.0,550.6 L1335.6,618.6 L1339.7,603.3 L1343.2,595.8 L1346.7,590.8 L1350.2,594.6 L1353.6,600.6 L1356.4,547.8 L1361.9,607.5 L1366.1,595.0 L1371.7,524.2 L1375.8,542.2 L1377.2,595.0 L1380.0,550.6 L1382.8,585.3 L1386.9,561.7 L1391.1,576.9 L1394.6,550.3 L1398.1,521.4 L1402.2,586.7 L1406.4,599.2 L1410.6,564.4 L1414.7,595.0 L1417.9,607.2 L1421.2,620.0 L1424.4,633.9 L1430.0,639.4 L1434.2,624.2 L1437.7,627.9 L1441.1,635.3 L1444.8,634.9 L1448.5,638.4 L1452.2,639.4 L1457.8,610.3 L1461.9,633.9 L1465.2,634.2 L1468.4,637.1 L1471.7,638.1 L1478.0,639.0 L1481.5,641.9 L1485.0,646.0 L1489.0,650.0 L1492.0,646.0 L1495.3,644.1 L1498.7,644.7 L1502.0,641.0 L1505.3,640.9 L1508.7,641.3 L1512.0,641.0 L1516.0,644.6 L1520.0,645.0 L1524.0,646.1 L1528.0,650.0 L1532.0,645.5 L1536.0,644.0 L1540.0,644.8 L1544.0,642.0 L1547.3,644.7 L1550.7,643.6 L1554.0,646.0 L1560.0,650.0 L1566.0,647.0 L1570.5,643.1 L1575.0,642.0 L1578.2,643.6 L1581.5,644.9 L1584.8,642.2 L1588.0,644.0 L1594.0,647.0 L1597.0,645.0" fill="none" stroke="#f4ee3a" stroke-width="2.0" stroke-linejoin="round"/>
<rect x="804.9" y="3" width="2.3" height="682.5" fill="#f6f4f0"/>
<rect x="807.2" y="3" width="1.1" height="682.5" fill="#a8a048"/>
<rect x="0" y="0" width="1600" height="1.2" fill="#d8d4e8"/>
<text x="68.2" y="67.2" font-size="30.5" textLength="43" lengthAdjust="spacingAndGlyphs" fill="#ffffff" text-anchor="end" font-weight="normal" >-20</text><rect x="75.5" y="57.6" width="7" height="1.6" fill="#7a6fc0"/><text x="68.2" y="181.5" font-size="30.5" textLength="43" lengthAdjust="spacingAndGlyphs" fill="#ffffff" text-anchor="end" font-weight="normal" >-40</text><rect x="75.5" y="171.9" width="7" height="1.6" fill="#7a6fc0"/><text x="68.2" y="295.8" font-size="30.5" textLength="43" lengthAdjust="spacingAndGlyphs" fill="#ffffff" text-anchor="end" font-weight="normal" >-60</text><rect x="75.5" y="286.2" width="7" height="1.6" fill="#7a6fc0"/><text x="68.2" y="410.1" font-size="30.5" textLength="43" lengthAdjust="spacingAndGlyphs" fill="#ffffff" text-anchor="end" font-weight="normal" >-80</text><rect x="75.5" y="400.5" width="7" height="1.6" fill="#7a6fc0"/><text x="68.2" y="524.4" font-size="30.5" textLength="58.5" lengthAdjust="spacingAndGlyphs" fill="#ffffff" text-anchor="end" font-weight="normal" >-100</text><rect x="75.5" y="514.8" width="7" height="1.6" fill="#7a6fc0"/><text x="68.2" y="638.7" font-size="30.5" textLength="58.5" lengthAdjust="spacingAndGlyphs" fill="#ffffff" text-anchor="end" font-weight="normal" >-120</text><rect x="75.5" y="629.1" width="7" height="1.6" fill="#7a6fc0"/>
<rect x="0" y="687.8" width="1600" height="2.6" fill="#3ee6ea"/>
<g fill="#8a7ad0" fill-opacity="0.5"><rect x="127.78" y="684" width="1.2" height="4"/><rect x="173.75" y="684" width="1.2" height="4"/><rect x="265.69" y="684" width="1.2" height="4"/><rect x="311.66" y="684" width="1.2" height="4"/><rect x="403.61" y="684" width="1.2" height="4"/><rect x="449.58" y="684" width="1.2" height="4"/><rect x="541.52" y="684" width="1.2" height="4"/><rect x="587.49" y="684" width="1.2" height="4"/><rect x="679.43" y="684" width="1.2" height="4"/><rect x="725.40" y="684" width="1.2" height="4"/><rect x="817.35" y="684" width="1.2" height="4"/><rect x="863.32" y="684" width="1.2" height="4"/><rect x="955.26" y="684" width="1.2" height="4"/><rect x="1001.23" y="684" width="1.2" height="4"/><rect x="1093.17" y="684" width="1.2" height="4"/><rect x="1139.14" y="684" width="1.2" height="4"/><rect x="1231.09" y="684" width="1.2" height="4"/><rect x="1277.06" y="684" width="1.2" height="4"/><rect x="1369.00" y="684" width="1.2" height="4"/><rect x="1414.97" y="684" width="1.2" height="4"/><rect x="1506.91" y="684" width="1.2" height="4"/><rect x="1552.88" y="684" width="1.2" height="4"/></g>
<g fill="#7a70c8"><rect x="219.62" y="683" width="1.4" height="11"/><rect x="357.54" y="683" width="1.4" height="11"/><rect x="495.45" y="683" width="1.4" height="11"/><rect x="633.36" y="683" width="1.4" height="11"/><rect x="771.27" y="683" width="1.4" height="11"/><rect x="909.19" y="683" width="1.4" height="11"/><rect x="1047.10" y="683" width="1.4" height="11"/><rect x="1185.01" y="683" width="1.4" height="11"/><rect x="1322.93" y="683" width="1.4" height="11"/><rect x="1460.84" y="683" width="1.4" height="11"/><rect x="1598.75" y="683" width="1.4" height="11"/></g>
<text x="219.4" y="731" font-size="29.6" textLength="31" lengthAdjust="spacingAndGlyphs" fill="#4fe0dc" text-anchor="middle" font-weight="normal" >2k</text><text x="357.4" y="731" font-size="29.6" textLength="31" lengthAdjust="spacingAndGlyphs" fill="#4fe0dc" text-anchor="middle" font-weight="normal" >4k</text><text x="495.4" y="731" font-size="29.6" textLength="31" lengthAdjust="spacingAndGlyphs" fill="#4fe0dc" text-anchor="middle" font-weight="normal" >6k</text><text x="633.5" y="731" font-size="29.6" textLength="31" lengthAdjust="spacingAndGlyphs" fill="#4fe0dc" text-anchor="middle" font-weight="normal" >8k</text><text x="771.5" y="731" font-size="29.6" textLength="47" lengthAdjust="spacingAndGlyphs" fill="#4fe0dc" text-anchor="middle" font-weight="normal" >10k</text><text x="909.5" y="731" font-size="29.6" textLength="47" lengthAdjust="spacingAndGlyphs" fill="#4fe0dc" text-anchor="middle" font-weight="normal" >12k</text><text x="1047.5" y="731" font-size="29.6" textLength="47" lengthAdjust="spacingAndGlyphs" fill="#4fe0dc" text-anchor="middle" font-weight="normal" >14k</text><text x="1185.5" y="731" font-size="29.6" textLength="47" lengthAdjust="spacingAndGlyphs" fill="#4fe0dc" text-anchor="middle" font-weight="normal" >16k</text><text x="1323.6" y="731" font-size="29.6" textLength="47" lengthAdjust="spacingAndGlyphs" fill="#4fe0dc" text-anchor="middle" font-weight="normal" >18k</text><text x="1461.6" y="731" font-size="29.6" textLength="49" lengthAdjust="spacingAndGlyphs" fill="#4fe0dc" text-anchor="middle" font-weight="normal" >20k</text>
<rect x="116.5" y="12.5" width="427.5" height="67.5" rx="33.75" fill="#4b66e6" fill-opacity="0.92"/>
<rect x="116.5" y="104" width="427.5" height="67" rx="33.5" fill="#4b66e6" fill-opacity="0.92"/>
<rect x="568" y="12.5" width="502" height="67.5" rx="33.75" fill="#425ad7" fill-opacity="0.7"/>
<rect x="1095" y="12.5" width="244" height="67.5" rx="33.75" fill="#425ad7" fill-opacity="0.7"/>
<text x="177.5" y="58.5" font-size="37.5" textLength="307" lengthAdjust="spacingAndGlyphs" fill="#ffffff" text-anchor="start" font-weight="normal" >10498 Hz, -103 dB</text>
<text x="229" y="149.5" font-size="37.5" textLength="201" lengthAdjust="spacingAndGlyphs" fill="#ffffff" text-anchor="start" font-weight="normal" >Max: -80 dB</text>
<text x="640.5" y="57.5" font-size="36.5" textLength="355" lengthAdjust="spacingAndGlyphs" fill="#5cf2f0" text-anchor="start" font-weight="normal" >Peak: 0086Hz, -66 dB</text>
<text x="1148.2" y="58.5" font-size="37.4" textLength="136" lengthAdjust="spacingAndGlyphs" fill="#f6e83c" text-anchor="start" font-weight="normal" >39 dB-A</text>
<rect x="805" y="12.5" width="2.2" height="67.5" fill="#d8d8f8" fill-opacity="0.8"/>
<circle cx="1417.5" cy="47.8" r="37.5" fill="#3e5dd0" fill-opacity="0.7"/>
<circle cx="1528" cy="48" r="37" fill="#3e5dd0" fill-opacity="0.7"/>
<g stroke="#50c8ec" stroke-width="2.2" fill="none">
<circle cx="1417.5" cy="48.6" r="20.8"/>
<line x1="1391" y1="48.6" x2="1406" y2="48.6"/>
<line x1="1429" y1="48.6" x2="1444" y2="48.6"/>
<line x1="1417.5" y1="22" x2="1417.5" y2="37"/>
<line x1="1417.5" y1="60" x2="1417.5" y2="75"/>
</g>
<circle cx="1417.5" cy="48.6" r="4.2" fill="#50c8ec"/>
<path d="M1529,30 L1546,30 L1546,47 Z" fill="#8e98e2"/>
<path d="M1511,50 L1511,66 L1527,66 Z" fill="#8e98e2"/>
<circle cx="95.3" cy="804.8" r="65" fill="#fff4d0" fill-opacity="0.85"/><circle cx="96.8" cy="806.3" r="65" fill="#2a1020" fill-opacity="0.8"/><circle cx="96" cy="805.5" r="65" fill="#fbcd3e"/>
<rect x="79.6" y="786.5" width="9" height="38" rx="4.5" fill="#ffffff"/>
<rect x="102.3" y="786.5" width="9" height="38" rx="4.5" fill="#ffffff"/>
<rect x="194.5" y="764.3" width="281.5" height="112" rx="15.5" fill="#7c6fda"/><rect x="194.5" y="765.8" width="281.5" height="110.7" rx="15.5" fill="#665bca"/><clipPath id="c194"><rect x="194.5" y="764.5" width="281.5" height="112" rx="15"/></clipPath><path clip-path="url(#c194)" d="M478,850 L478,878 L448,878 Z" fill="#f97d2a"/><text x="238.1" y="805" font-size="21" textLength="65" lengthAdjust="spacingAndGlyphs" fill="#f2f0ff" text-anchor="start" font-weight="normal" >PEAKS</text><text x="238.5" y="847" font-size="35.6" textLength="72" lengthAdjust="spacingAndGlyphs" fill="#b8e4fc" text-anchor="start" font-weight="bold" >Max</text><rect x="495" y="764.3" width="217" height="112" rx="15.5" fill="#7c6fda"/><rect x="495" y="765.8" width="217" height="110.7" rx="15.5" fill="#665bca"/><clipPath id="c495"><rect x="495" y="764.5" width="217" height="112" rx="15"/></clipPath><path clip-path="url(#c495)" d="M714,850 L714,878 L684,878 Z" fill="#f97d2a"/><text x="538.6" y="805" font-size="21" textLength="82.8" lengthAdjust="spacingAndGlyphs" fill="#f2f0ff" text-anchor="start" font-weight="normal" >FFT SIZE</text><text x="539" y="847" font-size="35.6" textLength="82.8" lengthAdjust="spacingAndGlyphs" fill="#b8e4fc" text-anchor="start" font-weight="bold" >1024</text><rect x="731.6" y="764.3" width="420.9" height="112" rx="15.5" fill="#7c6fda"/><rect x="731.6" y="765.8" width="420.9" height="110.7" rx="15.5" fill="#665bca"/><clipPath id="c731"><rect x="731.6" y="764.5" width="420.9" height="112" rx="15"/></clipPath><path clip-path="url(#c731)" d="M1154.5,850 L1154.5,878 L1124.5,878 Z" fill="#f97d2a"/><text x="775.2" y="805" font-size="21" textLength="63.6" lengthAdjust="spacingAndGlyphs" fill="#f2f0ff" text-anchor="start" font-weight="normal" >SCALE</text><text x="775.6" y="847" font-size="35.6" textLength="100.8" lengthAdjust="spacingAndGlyphs" fill="#b8e4fc" text-anchor="start" font-weight="bold" >Linear</text><rect x="1171" y="764.3" width="266" height="112" rx="15.5" fill="#7c6fda"/><rect x="1171" y="765.8" width="266" height="110.7" rx="15.5" fill="#665bca"/><clipPath id="c1171"><rect x="1171" y="764.5" width="266" height="112" rx="15"/></clipPath><path clip-path="url(#c1171)" d="M1439,850 L1439,878 L1409,878 Z" fill="#f97d2a"/><text x="1214.6" y="805" font-size="21" textLength="95" lengthAdjust="spacingAndGlyphs" fill="#f2f0ff" text-anchor="start" font-weight="normal" >WINDOW</text><text x="1215" y="847" font-size="35.6" textLength="129" lengthAdjust="spacingAndGlyphs" fill="#b8e4fc" text-anchor="start" font-weight="bold" >Lanczos</text><rect x="1457.5" y="764.3" width="120.5" height="111" rx="15.5" fill="#7c6fda"/><rect x="1457.5" y="765.8" width="120.5" height="109.5" rx="15.5" fill="#665bca"/><rect x="1499" y="801.6" width="37" height="6" rx="3" fill="#aed4fb"/><rect x="1499" y="816" width="37" height="6" rx="3" fill="#aed4fb"/><rect x="1499" y="831.2" width="37" height="6" rx="3" fill="#aed4fb"/>
</svg>
</body></html>
